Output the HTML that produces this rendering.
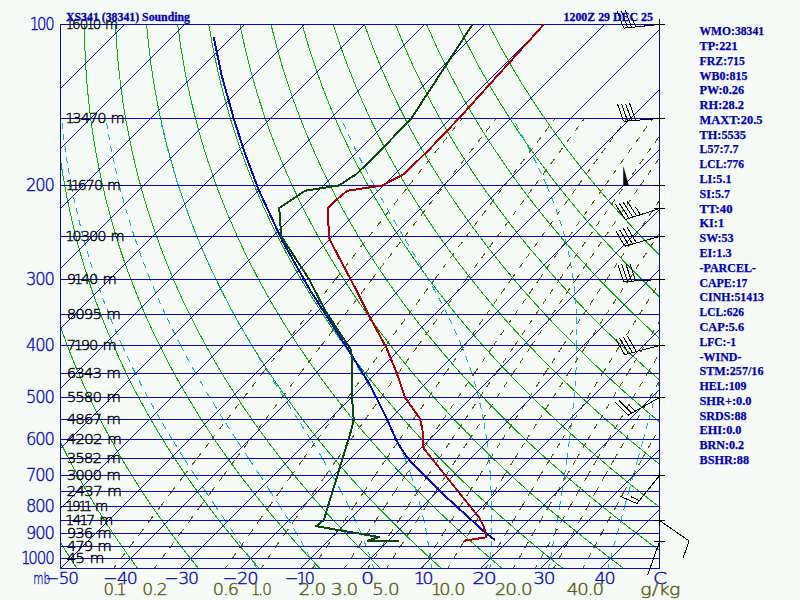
<!DOCTYPE html>
<html><head><meta charset="utf-8"><title>XS341 (38341) Sounding</title>
<style>html,body{margin:0;padding:0;background:#f6fbf7;}body{width:800px;height:600px;overflow:hidden}svg{display:block}</style>
</head><body>
<svg width="800" height="600" viewBox="0 0 800 600">
<rect width="800" height="600" fill="#f6fbf7"/>
<defs><clipPath id="c"><rect x="60" y="24" width="600" height="545"/></clipPath></defs>
<g clip-path="url(#c)" fill="none" stroke-width="1" shape-rendering="crispEdges">
<path stroke="#08b008" d="M-40.1,24.5 L-43.1,46.6 L-45.3,66.8 L-47.0,85.3 L-48.2,102.5 L-49.0,118.5 L-49.5,133.5 L-49.7,147.6 L-49.7,160.8 L-49.5,173.4 L-49.1,185.3 L-48.5,196.6 L-47.9,207.4 L-47.1,217.7 L-46.2,227.5 L-45.2,237.0 L-44.2,246.1 L-43.1,254.8 L-41.9,263.3 L-40.7,271.4 L-39.4,279.3 L-38.1,286.9 L-36.7,294.3 L-35.3,301.4 L-33.9,308.3 L-32.5,315.0 L-31.0,321.6 L-29.5,327.9 L-28.0,334.1 L-26.5,340.1 L-24.9,346.0 L-23.3,351.7 L-21.8,357.3 L-20.2,362.8 L-18.6,368.1 L-17.0,373.3 L-15.4,378.4 L-13.8,383.4 L-12.2,388.3 L-10.5,393.1 L-8.9,397.7 L-7.3,402.3 L-5.6,406.8 L-4.0,411.3 L-2.4,415.6 L-0.7,419.9 L0.9,424.0 L2.5,428.1 L4.2,432.2 L5.8,436.1 L7.4,440.0 L9.1,443.9 L10.7,447.6 L12.4,451.3 L14.0,455.0 L15.6,458.6 L17.2,462.1 L18.9,465.6 L20.5,469.1 L22.1,472.4 L23.7,475.8 L25.3,479.1 L26.9,482.3 L28.5,485.5 L30.2,488.7 L31.8,491.8 L33.3,494.9 L34.9,497.9 L36.5,500.9 L38.1,503.8 L39.7,506.8 L41.3,509.6 L42.8,512.5 L44.4,515.3 L46.0,518.1 L47.5,520.8 L49.1,523.5 L50.7,526.2 L52.2,528.9 L53.8,531.5 L55.3,534.1 L56.8,536.6 L58.4,539.2 L59.9,541.7 L61.4,544.2 L63.0,546.6 L64.5,549.0 L66.0,551.4 L67.5,553.8 L69.0,556.2 L70.5,558.5 L72.0,560.8 L73.5,563.1 L75.0,565.4 L76.5,567.6 L77.1,568.5 L77.9,569.8 M-9.0,24.5 L-11.1,46.6 L-12.5,66.8 L-13.5,85.3 L-14.0,102.5 L-14.1,118.5 L-13.9,133.5 L-13.5,147.6 L-12.9,160.8 L-12.1,173.4 L-11.2,185.3 L-10.1,196.6 L-8.9,207.4 L-7.6,217.7 L-6.3,227.5 L-4.8,237.0 L-3.3,246.1 L-1.8,254.8 L-0.2,263.3 L1.5,271.4 L3.2,279.3 L4.9,286.9 L6.6,294.3 L8.4,301.4 L10.2,308.3 L12.0,315.0 L13.8,321.6 L15.7,327.9 L17.5,334.1 L19.4,340.1 L21.3,346.0 L23.2,351.7 L25.1,357.3 L27.0,362.8 L28.9,368.1 L30.8,373.3 L32.7,378.4 L34.6,383.4 L36.5,388.3 L38.4,393.1 L40.3,397.7 L42.2,402.3 L44.1,406.8 L46.0,411.3 L48.0,415.6 L49.9,419.9 L51.8,424.0 L53.6,428.1 L55.5,432.2 L57.4,436.1 L59.3,440.0 L61.2,443.9 L63.1,447.6 L64.9,451.3 L66.8,455.0 L68.7,458.6 L70.5,462.1 L72.4,465.6 L74.2,469.1 L76.1,472.4 L77.9,475.8 L79.7,479.1 L81.6,482.3 L83.4,485.5 L85.2,488.7 L87.0,491.8 L88.8,494.9 L90.6,497.9 L92.4,500.9 L94.2,503.8 L96.0,506.8 L97.8,509.6 L99.5,512.5 L101.3,515.3 L103.1,518.1 L104.8,520.8 L106.6,523.5 L108.3,526.2 L110.1,528.9 L111.8,531.5 L113.5,534.1 L115.2,536.6 L117.0,539.2 L118.7,541.7 L120.4,544.2 L122.1,546.6 L123.8,549.0 L125.5,551.4 L127.1,553.8 L128.8,556.2 L130.5,558.5 L132.2,560.8 L133.8,563.1 L135.5,565.4 L137.1,567.6 L137.8,568.5 L138.8,569.8 M22.1,24.5 L20.9,46.6 L20.2,66.8 L20.1,85.3 L20.3,102.5 L20.8,118.5 L21.6,133.5 L22.7,147.6 L23.9,160.8 L25.2,173.4 L26.7,185.3 L28.3,196.6 L30.0,207.4 L31.8,217.7 L33.7,227.5 L35.6,237.0 L37.5,246.1 L39.5,254.8 L41.6,263.3 L43.6,271.4 L45.7,279.3 L47.8,286.9 L50.0,294.3 L52.1,301.4 L54.3,308.3 L56.5,315.0 L58.7,321.6 L60.9,327.9 L63.1,334.1 L65.3,340.1 L67.5,346.0 L69.7,351.7 L71.9,357.3 L74.1,362.8 L76.3,368.1 L78.6,373.3 L80.8,378.4 L83.0,383.4 L85.2,388.3 L87.4,393.1 L89.6,397.7 L91.8,402.3 L93.9,406.8 L96.1,411.3 L98.3,415.6 L100.4,419.9 L102.6,424.0 L104.8,428.1 L106.9,432.2 L109.0,436.1 L111.2,440.0 L113.3,443.9 L115.4,447.6 L117.5,451.3 L119.6,455.0 L121.7,458.6 L123.8,462.1 L125.9,465.6 L128.0,469.1 L130.1,472.4 L132.1,475.8 L134.2,479.1 L136.2,482.3 L138.2,485.5 L140.3,488.7 L142.3,491.8 L144.3,494.9 L146.3,497.9 L148.3,500.9 L150.3,503.8 L152.3,506.8 L154.3,509.6 L156.2,512.5 L158.2,515.3 L160.2,518.1 L162.1,520.8 L164.1,523.5 L166.0,526.2 L167.9,528.9 L169.8,531.5 L171.7,534.1 L173.7,536.6 L175.6,539.2 L177.4,541.7 L179.3,544.2 L181.2,546.6 L183.1,549.0 L184.9,551.4 L186.8,553.8 L188.7,556.2 L190.5,558.5 L192.3,560.8 L194.2,563.1 L196.0,565.4 L197.8,567.6 L198.6,568.5 L199.6,569.8 M53.2,24.5 L52.8,46.6 L53.0,66.8 L53.6,85.3 L54.5,102.5 L55.8,118.5 L57.2,133.5 L58.9,147.6 L60.7,160.8 L62.6,173.4 L64.7,185.3 L66.8,196.6 L69.0,207.4 L71.3,217.7 L73.6,227.5 L76.0,237.0 L78.4,246.1 L80.8,254.8 L83.3,263.3 L85.8,271.4 L88.3,279.3 L90.8,286.9 L93.3,294.3 L95.9,301.4 L98.4,308.3 L101.0,315.0 L103.5,321.6 L106.1,327.9 L108.6,334.1 L111.2,340.1 L113.7,346.0 L116.2,351.7 L118.8,357.3 L121.3,362.8 L123.8,368.1 L126.3,373.3 L128.8,378.4 L131.3,383.4 L133.8,388.3 L136.3,393.1 L138.8,397.7 L141.3,402.3 L143.7,406.8 L146.2,411.3 L148.6,415.6 L151.0,419.9 L153.5,424.0 L155.9,428.1 L158.3,432.2 L160.7,436.1 L163.0,440.0 L165.4,443.9 L167.8,447.6 L170.1,451.3 L172.5,455.0 L174.8,458.6 L177.1,462.1 L179.4,465.6 L181.7,469.1 L184.0,472.4 L186.3,475.8 L188.6,479.1 L190.8,482.3 L193.1,485.5 L195.3,488.7 L197.6,491.8 L199.8,494.9 L202.0,497.9 L204.2,500.9 L206.4,503.8 L208.6,506.8 L210.8,509.6 L212.9,512.5 L215.1,515.3 L217.3,518.1 L219.4,520.8 L221.5,523.5 L223.7,526.2 L225.8,528.9 L227.9,531.5 L230.0,534.1 L232.1,536.6 L234.1,539.2 L236.2,541.7 L238.3,544.2 L240.3,546.6 L242.4,549.0 L244.4,551.4 L246.5,553.8 L248.5,556.2 L250.5,558.5 L252.5,560.8 L254.5,563.1 L256.5,565.4 L258.5,567.6 L259.3,568.5 L260.5,569.8 M84.4,24.5 L84.8,46.6 L85.8,66.8 L87.1,85.3 L88.8,102.5 L90.7,118.5 L92.8,133.5 L95.1,147.6 L97.5,160.8 L100.0,173.4 L102.6,185.3 L105.2,196.6 L108.0,207.4 L110.7,217.7 L113.5,227.5 L116.4,237.0 L119.2,246.1 L122.1,254.8 L125.0,263.3 L127.9,271.4 L130.8,279.3 L133.8,286.9 L136.7,294.3 L139.6,301.4 L142.5,308.3 L145.4,315.0 L148.3,321.6 L151.2,327.9 L154.1,334.1 L157.0,340.1 L159.9,346.0 L162.8,351.7 L165.6,357.3 L168.5,362.8 L171.3,368.1 L174.1,373.3 L176.9,378.4 L179.7,383.4 L182.5,388.3 L185.3,393.1 L188.0,397.7 L190.8,402.3 L193.5,406.8 L196.2,411.3 L198.9,415.6 L201.6,419.9 L204.3,424.0 L207.0,428.1 L209.6,432.2 L212.3,436.1 L214.9,440.0 L217.5,443.9 L220.1,447.6 L222.7,451.3 L225.3,455.0 L227.9,458.6 L230.4,462.1 L233.0,465.6 L235.5,469.1 L238.0,472.4 L240.5,475.8 L243.0,479.1 L245.5,482.3 L247.9,485.5 L250.4,488.7 L252.8,491.8 L255.3,494.9 L257.7,497.9 L260.1,500.9 L262.5,503.8 L264.9,506.8 L267.3,509.6 L269.6,512.5 L272.0,515.3 L274.3,518.1 L276.7,520.8 L279.0,523.5 L281.3,526.2 L283.6,528.9 L285.9,531.5 L288.2,534.1 L290.5,536.6 L292.7,539.2 L295.0,541.7 L297.2,544.2 L299.5,546.6 L301.7,549.0 L303.9,551.4 L306.1,553.8 L308.3,556.2 L310.5,558.5 L312.7,560.8 L314.8,563.1 L317.0,565.4 L319.2,567.6 L320.0,568.5 L321.3,569.8 M115.5,24.5 L116.8,46.6 L118.5,66.8 L120.7,85.3 L123.0,102.5 L125.6,118.5 L128.4,133.5 L131.3,147.6 L134.3,160.8 L137.3,173.4 L140.5,185.3 L143.7,196.6 L146.9,207.4 L150.2,217.7 L153.5,227.5 L156.8,237.0 L160.1,246.1 L163.4,254.8 L166.8,263.3 L170.1,271.4 L173.4,279.3 L176.7,286.9 L180.0,294.3 L183.3,301.4 L186.6,308.3 L189.9,315.0 L193.2,321.6 L196.4,327.9 L199.7,334.1 L202.9,340.1 L206.1,346.0 L209.3,351.7 L212.5,357.3 L215.6,362.8 L218.8,368.1 L221.9,373.3 L225.0,378.4 L228.1,383.4 L231.2,388.3 L234.2,393.1 L237.3,397.7 L240.3,402.3 L243.3,406.8 L246.3,411.3 L249.3,415.6 L252.2,419.9 L255.2,424.0 L258.1,428.1 L261.0,432.2 L263.9,436.1 L266.8,440.0 L269.6,443.9 L272.5,447.6 L275.3,451.3 L278.1,455.0 L280.9,458.6 L283.7,462.1 L286.5,465.6 L289.2,469.1 L292.0,472.4 L294.7,475.8 L297.4,479.1 L300.1,482.3 L302.8,485.5 L305.5,488.7 L308.1,491.8 L310.8,494.9 L313.4,497.9 L316.0,500.9 L318.6,503.8 L321.2,506.8 L323.8,509.6 L326.3,512.5 L328.9,515.3 L331.4,518.1 L334.0,520.8 L336.5,523.5 L339.0,526.2 L341.5,528.9 L344.0,531.5 L346.4,534.1 L348.9,536.6 L351.3,539.2 L353.8,541.7 L356.2,544.2 L358.6,546.6 L361.0,549.0 L363.4,551.4 L365.8,553.8 L368.1,556.2 L370.5,558.5 L372.8,560.8 L375.2,563.1 L377.5,565.4 L379.8,567.6 L380.8,568.5 L382.1,569.8 M146.6,24.5 L148.8,46.6 L151.3,66.8 L154.2,85.3 L157.3,102.5 L160.6,118.5 L164.0,133.5 L167.5,147.6 L171.1,160.8 L174.7,173.4 L178.4,185.3 L182.1,196.6 L185.9,207.4 L189.6,217.7 L193.4,227.5 L197.2,237.0 L201.0,246.1 L204.7,254.8 L208.5,263.3 L212.2,271.4 L216.0,279.3 L219.7,286.9 L223.4,294.3 L227.1,301.4 L230.7,308.3 L234.4,315.0 L238.0,321.6 L241.6,327.9 L245.2,334.1 L248.8,340.1 L252.3,346.0 L255.8,351.7 L259.3,357.3 L262.8,362.8 L266.2,368.1 L269.7,373.3 L273.1,378.4 L276.5,383.4 L279.8,388.3 L283.2,393.1 L286.5,397.7 L289.8,402.3 L293.1,406.8 L296.4,411.3 L299.6,415.6 L302.8,419.9 L306.0,424.0 L309.2,428.1 L312.4,432.2 L315.5,436.1 L318.6,440.0 L321.7,443.9 L324.8,447.6 L327.9,451.3 L331.0,455.0 L334.0,458.6 L337.0,462.1 L340.0,465.6 L343.0,469.1 L346.0,472.4 L348.9,475.8 L351.8,479.1 L354.7,482.3 L357.6,485.5 L360.5,488.7 L363.4,491.8 L366.2,494.9 L369.1,497.9 L371.9,500.9 L374.7,503.8 L377.5,506.8 L380.3,509.6 L383.0,512.5 L385.8,515.3 L388.5,518.1 L391.2,520.8 L393.9,523.5 L396.6,526.2 L399.3,528.9 L402.0,531.5 L404.6,534.1 L407.3,536.6 L409.9,539.2 L412.5,541.7 L415.1,544.2 L417.7,546.6 L420.3,549.0 L422.9,551.4 L425.4,553.8 L428.0,556.2 L430.5,558.5 L433.0,560.8 L435.5,563.1 L438.0,565.4 L440.5,567.6 L441.5,568.5 L443.0,569.8 M177.7,24.5 L180.7,46.6 L184.1,66.8 L187.7,85.3 L191.5,102.5 L195.5,118.5 L199.5,133.5 L203.7,147.6 L207.8,160.8 L212.1,173.4 L216.3,185.3 L220.6,196.6 L224.8,207.4 L229.1,217.7 L233.4,227.5 L237.6,237.0 L241.8,246.1 L246.0,254.8 L250.2,263.3 L254.4,271.4 L258.5,279.3 L262.7,286.9 L266.7,294.3 L270.8,301.4 L274.9,308.3 L278.9,315.0 L282.8,321.6 L286.8,327.9 L290.7,334.1 L294.6,340.1 L298.5,346.0 L302.4,351.7 L306.2,357.3 L310.0,362.8 L313.7,368.1 L317.5,373.3 L321.2,378.4 L324.9,383.4 L328.5,388.3 L332.1,393.1 L335.8,397.7 L339.3,402.3 L342.9,406.8 L346.4,411.3 L349.9,415.6 L353.4,419.9 L356.9,424.0 L360.3,428.1 L363.7,432.2 L367.1,436.1 L370.5,440.0 L373.9,443.9 L377.2,447.6 L380.5,451.3 L383.8,455.0 L387.1,458.6 L390.3,462.1 L393.5,465.6 L396.7,469.1 L399.9,472.4 L403.1,475.8 L406.2,479.1 L409.4,482.3 L412.5,485.5 L415.6,488.7 L418.7,491.8 L421.7,494.9 L424.8,497.9 L427.8,500.9 L430.8,503.8 L433.8,506.8 L436.8,509.6 L439.7,512.5 L442.7,515.3 L445.6,518.1 L448.5,520.8 L451.4,523.5 L454.3,526.2 L457.2,528.9 L460.0,531.5 L462.9,534.1 L465.7,536.6 L468.5,539.2 L471.3,541.7 L474.1,544.2 L476.9,546.6 L479.6,549.0 L482.4,551.4 L485.1,553.8 L487.8,556.2 L490.5,558.5 L493.2,560.8 L495.9,563.1 L498.5,565.4 L501.2,567.6 L502.3,568.5 L503.8,569.8 M208.8,24.5 L212.7,46.6 L216.9,66.8 L221.2,85.3 L225.8,102.5 L230.4,118.5 L235.1,133.5 L239.9,147.6 L244.6,160.8 L249.4,173.4 L254.2,185.3 L259.0,196.6 L263.8,207.4 L268.6,217.7 L273.3,227.5 L278.0,237.0 L282.7,246.1 L287.3,254.8 L292.0,263.3 L296.5,271.4 L301.1,279.3 L305.6,286.9 L310.1,294.3 L314.5,301.4 L319.0,308.3 L323.3,315.0 L327.7,321.6 L332.0,327.9 L336.3,334.1 L340.5,340.1 L344.7,346.0 L348.9,351.7 L353.0,357.3 L357.1,362.8 L361.2,368.1 L365.2,373.3 L369.3,378.4 L373.2,383.4 L377.2,388.3 L381.1,393.1 L385.0,397.7 L388.9,402.3 L392.7,406.8 L396.5,411.3 L400.3,415.6 L404.0,419.9 L407.7,424.0 L411.4,428.1 L415.1,432.2 L418.8,436.1 L422.4,440.0 L426.0,443.9 L429.5,447.6 L433.1,451.3 L436.6,455.0 L440.1,458.6 L443.6,462.1 L447.1,465.6 L450.5,469.1 L453.9,472.4 L457.3,475.8 L460.7,479.1 L464.0,482.3 L467.3,485.5 L470.7,488.7 L473.9,491.8 L477.2,494.9 L480.5,497.9 L483.7,500.9 L486.9,503.8 L490.1,506.8 L493.3,509.6 L496.4,512.5 L499.6,515.3 L502.7,518.1 L505.8,520.8 L508.9,523.5 L512.0,526.2 L515.0,528.9 L518.1,531.5 L521.1,534.1 L524.1,536.6 L527.1,539.2 L530.1,541.7 L533.0,544.2 L536.0,546.6 L538.9,549.0 L541.8,551.4 L544.7,553.8 L547.6,556.2 L550.5,558.5 L553.4,560.8 L556.2,563.1 L559.0,565.4 L561.9,567.6 L563.0,568.5 L564.7,569.8 M239.9,24.5 L244.7,46.6 L249.6,66.8 L254.8,85.3 L260.0,102.5 L265.3,118.5 L270.7,133.5 L276.1,147.6 L281.4,160.8 L286.8,173.4 L292.1,185.3 L297.5,196.6 L302.8,207.4 L308.0,217.7 L313.2,227.5 L318.4,237.0 L323.5,246.1 L328.6,254.8 L333.7,263.3 L338.7,271.4 L343.7,279.3 L348.6,286.9 L353.5,294.3 L358.3,301.4 L363.1,308.3 L367.8,315.0 L372.5,321.6 L377.2,327.9 L381.8,334.1 L386.4,340.1 L390.9,346.0 L395.4,351.7 L399.9,357.3 L404.3,362.8 L408.7,368.1 L413.0,373.3 L417.3,378.4 L421.6,383.4 L425.8,388.3 L430.1,393.1 L434.2,397.7 L438.4,402.3 L442.5,406.8 L446.6,411.3 L450.6,415.6 L454.6,419.9 L458.6,424.0 L462.5,428.1 L466.5,432.2 L470.4,436.1 L474.2,440.0 L478.1,443.9 L481.9,447.6 L485.7,451.3 L489.4,455.0 L493.2,458.6 L496.9,462.1 L500.6,465.6 L504.2,469.1 L507.9,472.4 L511.5,475.8 L515.1,479.1 L518.6,482.3 L522.2,485.5 L525.7,488.7 L529.2,491.8 L532.7,494.9 L536.2,497.9 L539.6,500.9 L543.0,503.8 L546.4,506.8 L549.8,509.6 L553.1,512.5 L556.5,515.3 L559.8,518.1 L563.1,520.8 L566.4,523.5 L569.6,526.2 L572.9,528.9 L576.1,531.5 L579.3,534.1 L582.5,536.6 L585.7,539.2 L588.8,541.7 L592.0,544.2 L595.1,546.6 L598.2,549.0 L601.3,551.4 L604.4,553.8 L607.5,556.2 L610.5,558.5 L613.5,560.8 L616.5,563.1 L619.6,565.4 L622.5,567.6 L623.7,568.5 L625.5,569.8 M271.0,24.5 L276.6,46.6 L282.4,66.8 L288.3,85.3 L294.3,102.5 L300.3,118.5 L306.3,133.5 L312.3,147.6 L318.2,160.8 L324.2,173.4 L330.1,185.3 L335.9,196.6 L341.7,207.4 L347.5,217.7 L353.2,227.5 L358.8,237.0 L364.4,246.1 L369.9,254.8 L375.4,263.3 L380.8,271.4 L386.2,279.3 L391.5,286.9 L396.8,294.3 L402.0,301.4 L407.2,308.3 L412.3,315.0 L417.3,321.6 L422.4,327.9 L427.3,334.1 L432.2,340.1 L437.1,346.0 L441.9,351.7 L446.7,357.3 L451.5,362.8 L456.1,368.1 L460.8,373.3 L465.4,378.4 L470.0,383.4 L474.5,388.3 L479.0,393.1 L483.5,397.7 L487.9,402.3 L492.3,406.8 L496.6,411.3 L500.9,415.6 L505.2,419.9 L509.5,424.0 L513.7,428.1 L517.8,432.2 L522.0,436.1 L526.1,440.0 L530.2,443.9 L534.2,447.6 L538.3,451.3 L542.3,455.0 L546.2,458.6 L550.2,462.1 L554.1,465.6 L558.0,469.1 L561.9,472.4 L565.7,475.8 L569.5,479.1 L573.3,482.3 L577.0,485.5 L580.8,488.7 L584.5,491.8 L588.2,494.9 L591.8,497.9 L595.5,500.9 L599.1,503.8 L602.7,506.8 L606.3,509.6 L609.8,512.5 L613.4,515.3 L616.9,518.1 L620.4,520.8 L623.8,523.5 L627.3,526.2 L630.7,528.9 L634.1,531.5 L637.5,534.1 L640.9,536.6 L644.3,539.2 L647.6,541.7 L650.9,544.2 L654.2,546.6 L657.5,549.0 L660.8,551.4 L664.0,553.8 L667.3,556.2 L670.5,558.5 L673.7,560.8 L676.9,563.1 L680.1,565.4 L683.2,567.6 L684.5,568.5 L686.4,569.8 M302.2,24.5 L308.6,46.6 L315.2,66.8 L321.8,85.3 L328.5,102.5 L335.2,118.5 L341.8,133.5 L348.5,147.6 L355.0,160.8 L361.5,173.4 L368.0,185.3 L374.4,196.6 L380.7,207.4 L386.9,217.7 L393.1,227.5 L399.2,237.0 L405.3,246.1 L411.2,254.8 L417.2,263.3 L423.0,271.4 L428.8,279.3 L434.5,286.9 L440.2,294.3 L445.8,301.4 L451.3,308.3 L456.8,315.0 L462.2,321.6 L467.5,327.9 L472.9,334.1 L478.1,340.1 L483.3,346.0 L488.5,351.7 L493.6,357.3 L498.6,362.8 L503.6,368.1 L508.6,373.3 L513.5,378.4 L518.4,383.4 L523.2,388.3 L528.0,393.1 L532.7,397.7 L537.4,402.3 L542.1,406.8 L546.7,411.3 L551.3,415.6 L555.8,419.9 L560.3,424.0 L564.8,428.1 L569.2,432.2 L573.6,436.1 L578.0,440.0 L582.3,443.9 L586.6,447.6 L590.9,451.3 L595.1,455.0 L599.3,458.6 L603.5,462.1 L607.6,465.6 L611.7,469.1 L615.8,472.4 L619.9,475.8 L623.9,479.1 L627.9,482.3 L631.9,485.5 L635.8,488.7 L639.8,491.8 L643.7,494.9 L647.5,497.9 L651.4,500.9 L655.2,503.8 L659.0,506.8 L662.8,509.6 L666.5,512.5 L670.3,515.3 L674.0,518.1 L677.7,520.8 L681.3,523.5 L685.0,526.2 L688.6,528.9 L692.2,531.5 L695.8,534.1 L699.3,536.6 L702.9,539.2 L706.4,541.7 L709.9,544.2 L713.4,546.6 L716.8,549.0 L720.3,551.4 L723.7,553.8 L727.1,556.2 L730.5,558.5 L733.9,560.8 L737.2,563.1 L740.6,565.4 L743.9,567.6 L745.2,568.5 L747.2,569.8 M333.3,24.5 L340.6,46.6 L348.0,66.8 L355.4,85.3 L362.8,102.5 L370.1,118.5 L377.4,133.5 L384.6,147.6 L391.8,160.8 L398.9,173.4 L405.9,185.3 L412.8,196.6 L419.6,207.4 L426.4,217.7 L433.0,227.5 L439.6,237.0 L446.1,246.1 L452.5,254.8 L458.9,263.3 L465.2,271.4 L471.3,279.3 L477.5,286.9 L483.5,294.3 L489.5,301.4 L495.4,308.3 L501.2,315.0 L507.0,321.6 L512.7,327.9 L518.4,334.1 L524.0,340.1 L529.5,346.0 L535.0,351.7 L540.4,357.3 L545.8,362.8 L551.1,368.1 L556.4,373.3 L561.6,378.4 L566.7,383.4 L571.9,388.3 L576.9,393.1 L581.9,397.7 L586.9,402.3 L591.9,406.8 L596.7,411.3 L601.6,415.6 L606.4,419.9 L611.2,424.0 L615.9,428.1 L620.6,432.2 L625.2,436.1 L629.8,440.0 L634.4,443.9 L639.0,447.6 L643.5,451.3 L647.9,455.0 L652.4,458.6 L656.8,462.1 L661.1,465.6 L665.5,469.1 L669.8,472.4 L674.1,475.8 L678.3,479.1 L682.5,482.3 L686.7,485.5 L690.9,488.7 L695.0,491.8 L699.1,494.9 L703.2,497.9 L707.3,500.9 L711.3,503.8 L715.3,506.8 L719.3,509.6 L723.2,512.5 L727.2,515.3 L731.1,518.1 L734.9,520.8 L738.8,523.5 L742.6,526.2 L746.4,528.9 L750.2,531.5 L754.0,534.1 L757.7,536.6 L761.5,539.2 L765.2,541.7 L768.8,544.2 L772.5,546.6 L776.1,549.0 L779.8,551.4 L783.4,553.8 L786.9,556.2 L790.5,558.5 L794.0,560.8 L797.6,563.1 L801.1,565.4 L804.6,567.6 L806.0,568.5 L808.0,569.8 M364.4,24.5 L372.6,46.6 L380.7,66.8 L388.9,85.3 L397.0,102.5 L405.0,118.5 L413.0,133.5 L420.8,147.6 L428.6,160.8 L436.3,173.4 L443.8,185.3 L451.2,196.6 L458.6,207.4 L465.8,217.7 L473.0,227.5 L480.0,237.0 L487.0,246.1 L493.8,254.8 L500.6,263.3 L507.3,271.4 L513.9,279.3 L520.4,286.9 L526.9,294.3 L533.2,301.4 L539.5,308.3 L545.7,315.0 L551.9,321.6 L557.9,327.9 L563.9,334.1 L569.8,340.1 L575.7,346.0 L581.5,351.7 L587.3,357.3 L592.9,362.8 L598.6,368.1 L604.1,373.3 L609.7,378.4 L615.1,383.4 L620.5,388.3 L625.9,393.1 L631.2,397.7 L636.4,402.3 L641.6,406.8 L646.8,411.3 L651.9,415.6 L657.0,419.9 L662.0,424.0 L667.0,428.1 L671.9,432.2 L676.8,436.1 L681.7,440.0 L686.5,443.9 L691.3,447.6 L696.1,451.3 L700.8,455.0 L705.4,458.6 L710.1,462.1 L714.7,465.6 L719.2,469.1 L723.8,472.4 L728.3,475.8 L732.7,479.1 L737.2,482.3 L741.6,485.5 L746.0,488.7 L750.3,491.8 L754.6,494.9 L758.9,497.9 L763.2,500.9 L767.4,503.8 L771.6,506.8 L775.8,509.6 L779.9,512.5 L784.1,515.3 L788.1,518.1 L792.2,520.8 L796.3,523.5 L800.3,526.2 L804.3,528.9 L808.3,531.5 L812.2,534.1 L816.1,536.6 L820.0,539.2 L823.9,541.7 L827.8,544.2 L831.6,546.6 L835.4,549.0 L839.2,551.4 L843.0,553.8 L846.8,556.2 L850.5,558.5 L854.2,560.8 L857.9,563.1 L861.6,565.4 L865.2,567.6 L866.7,568.5 L868.9,569.8 M395.5,24.5 L404.5,46.6 L413.5,66.8 L422.4,85.3 L431.3,102.5 L440.0,118.5 L448.6,133.5 L457.0,147.6 L465.4,160.8 L473.6,173.4 L481.7,185.3 L489.7,196.6 L497.6,207.4 L505.3,217.7 L512.9,227.5 L520.4,237.0 L527.8,246.1 L535.2,254.8 L542.4,263.3 L549.5,271.4 L556.5,279.3 L563.4,286.9 L570.2,294.3 L577.0,301.4 L583.6,308.3 L590.2,315.0 L596.7,321.6 L603.1,327.9 L609.4,334.1 L615.7,340.1 L621.9,346.0 L628.0,351.7 L634.1,357.3 L640.1,362.8 L646.0,368.1 L651.9,373.3 L657.7,378.4 L663.5,383.4 L669.2,388.3 L674.8,393.1 L680.4,397.7 L686.0,402.3 L691.4,406.8 L696.9,411.3 L702.2,415.6 L707.6,419.9 L712.9,424.0 L718.1,428.1 L723.3,432.2 L728.5,436.1 L733.6,440.0 L738.6,443.9 L743.7,447.6 L748.6,451.3 L753.6,455.0 L758.5,458.6 L763.4,462.1 L768.2,465.6 L773.0,469.1 L777.7,472.4 L782.5,475.8 L787.2,479.1 L791.8,482.3 L796.4,485.5 L801.0,488.7 L805.6,491.8 L810.1,494.9 L814.6,497.9 L819.1,500.9 L823.5,503.8 L827.9,506.8 L832.3,509.6 L836.6,512.5 L840.9,515.3 L845.2,518.1 L849.5,520.8 L853.7,523.5 L858.0,526.2 L862.1,528.9 L866.3,531.5 L870.4,534.1 L874.5,536.6 L878.6,539.2 L882.7,541.7 L886.7,544.2 L890.8,546.6 L894.7,549.0 L898.7,551.4 L902.7,553.8 L906.6,556.2 L910.5,558.5 L914.4,560.8 L918.2,563.1 L922.1,565.4 L925.9,567.6 L927.5,568.5 L929.7,569.8 M426.6,24.5 L436.5,46.6 L446.3,66.8 L456.0,85.3 L465.5,102.5 L474.9,118.5 L484.1,133.5 L493.2,147.6 L502.2,160.8 L511.0,173.4 L519.6,185.3 L528.1,196.6 L536.5,207.4 L544.7,217.7 L552.9,227.5 L560.8,237.0 L568.7,246.1 L576.5,254.8 L584.1,263.3 L591.6,271.4 L599.0,279.3 L606.4,286.9 L613.6,294.3 L620.7,301.4 L627.7,308.3 L634.7,315.0 L641.5,321.6 L648.3,327.9 L655.0,334.1 L661.6,340.1 L668.1,346.0 L674.6,351.7 L681.0,357.3 L687.3,362.8 L693.5,368.1 L699.7,373.3 L705.8,378.4 L711.9,383.4 L717.9,388.3 L723.8,393.1 L729.7,397.7 L735.5,402.3 L741.2,406.8 L746.9,411.3 L752.6,415.6 L758.2,419.9 L763.7,424.0 L769.2,428.1 L774.7,432.2 L780.1,436.1 L785.4,440.0 L790.7,443.9 L796.0,447.6 L801.2,451.3 L806.4,455.0 L811.6,458.6 L816.7,462.1 L821.7,465.6 L826.7,469.1 L831.7,472.4 L836.7,475.8 L841.6,479.1 L846.4,482.3 L851.3,485.5 L856.1,488.7 L860.9,491.8 L865.6,494.9 L870.3,497.9 L875.0,500.9 L879.6,503.8 L884.2,506.8 L888.8,509.6 L893.3,512.5 L897.8,515.3 L902.3,518.1 L906.8,520.8 L911.2,523.5 L915.6,526.2 L920.0,528.9 L924.3,531.5 L928.7,534.1 L933.0,536.6 L937.2,539.2 L941.5,541.7 L945.7,544.2 L949.9,546.6 L954.1,549.0 L958.2,551.4 L962.3,553.8 L966.4,556.2 L970.5,558.5 L974.6,560.8 L978.6,563.1 L982.6,565.4 L986.6,567.6 L988.2,568.5 L990.6,569.8 M457.7,24.5 L468.5,46.6 L479.1,66.8 L489.5,85.3 L499.8,102.5 L509.8,118.5 L519.7,133.5 L529.4,147.6 L539.0,160.8 L548.3,173.4 L557.5,185.3 L566.6,196.6 L575.5,207.4 L584.2,217.7 L592.8,227.5 L601.2,237.0 L609.6,246.1 L617.8,254.8 L625.8,263.3 L633.8,271.4 L641.6,279.3 L649.3,286.9 L656.9,294.3 L664.4,301.4 L671.8,308.3 L679.1,315.0 L686.4,321.6 L693.5,327.9 L700.5,334.1 L707.5,340.1 L714.3,346.0 L721.1,351.7 L727.8,357.3 L734.4,362.8 L741.0,368.1 L747.5,373.3 L753.9,378.4 L760.2,383.4 L766.5,388.3 L772.7,393.1 L778.9,397.7 L785.0,402.3 L791.0,406.8 L797.0,411.3 L802.9,415.6 L808.8,419.9 L814.6,424.0 L820.3,428.1 L826.0,432.2 L831.7,436.1 L837.3,440.0 L842.9,443.9 L848.4,447.6 L853.8,451.3 L859.2,455.0 L864.6,458.6 L870.0,462.1 L875.2,465.6 L880.5,469.1 L885.7,472.4 L890.9,475.8 L896.0,479.1 L901.1,482.3 L906.1,485.5 L911.2,488.7 L916.1,491.8 L921.1,494.9 L926.0,497.9 L930.9,500.9 L935.7,503.8 L940.5,506.8 L945.3,509.6 L950.0,512.5 L954.7,515.3 L959.4,518.1 L964.1,520.8 L968.7,523.5 L973.3,526.2 L977.8,528.9 L982.4,531.5 L986.9,534.1 L991.4,536.6 L995.8,539.2 L1000.2,541.7 L1004.6,544.2 L1009.0,546.6 L1013.4,549.0 L1017.7,551.4 L1022.0,553.8 L1026.3,556.2 L1030.5,558.5 L1034.7,560.8 L1038.9,563.1 L1043.1,565.4 L1047.3,567.6 L1048.9,568.5 L1051.4,569.8 M488.8,24.5 L500.4,46.6 L511.8,66.8 L523.0,85.3 L534.0,102.5 L544.8,118.5 L555.3,133.5 L565.6,147.6 L575.8,160.8 L585.7,173.4 L595.5,185.3 L605.0,196.6 L614.4,207.4 L623.7,217.7 L632.7,227.5 L641.7,237.0 L650.4,246.1 L659.1,254.8 L667.6,263.3 L675.9,271.4 L684.2,279.3 L692.3,286.9 L700.3,294.3 L708.2,301.4 L715.9,308.3 L723.6,315.0 L731.2,321.6 L738.7,327.9 L746.0,334.1 L753.3,340.1 L760.5,346.0 L767.6,351.7 L774.7,357.3 L781.6,362.8 L788.5,368.1 L795.3,373.3 L802.0,378.4 L808.6,383.4 L815.2,388.3 L821.7,393.1 L828.1,397.7 L834.5,402.3 L840.8,406.8 L847.1,411.3 L853.2,415.6 L859.4,419.9 L865.4,424.0 L871.4,428.1 L877.4,432.2 L883.3,436.1 L889.2,440.0 L895.0,443.9 L900.7,447.6 L906.4,451.3 L912.1,455.0 L917.7,458.6 L923.3,462.1 L928.8,465.6 L934.2,469.1 L939.7,472.4 L945.1,475.8 L950.4,479.1 L955.7,482.3 L961.0,485.5 L966.2,488.7 L971.4,491.8 L976.6,494.9 L981.7,497.9 L986.8,500.9 L991.8,503.8 L996.8,506.8 L1001.8,509.6 L1006.7,512.5 L1011.6,515.3 L1016.5,518.1 L1021.3,520.8 L1026.2,523.5 L1030.9,526.2 L1035.7,528.9 L1040.4,531.5 L1045.1,534.1 L1049.8,536.6 L1054.4,539.2 L1059.0,541.7 L1063.6,544.2 L1068.1,546.6 L1072.7,549.0 L1077.2,551.4 L1081.6,553.8 L1086.1,556.2 L1090.5,558.5 L1094.9,560.8 L1099.3,563.1 L1103.6,565.4 L1107.9,567.6 L1109.7,568.5 L1112.2,569.8"/>
<path stroke="#18b4cc" d="M257.7,569.8 L253.9,563.8 M250.5,558.5 L246.6,552.5 M243.2,547.2 L242.7,546.6 M242.7,546.6 L238.7,540.6 M235.2,535.4 L234.4,534.1 M234.4,534.1 L230.3,528.1 M226.8,522.8 L225.4,520.8 M225.4,520.8 L221.4,514.8 M217.8,509.6 L215.9,506.8 M215.9,506.8 L211.9,500.8 M208.3,495.5 L205.9,491.8 M205.9,491.8 L201.9,485.8 M198.4,480.5 L195.3,475.8 M195.3,475.8 L191.3,469.8 M187.9,464.5 L184.1,458.6 M184.1,458.6 L180.3,452.6 M177.1,447.3 L173.4,441.3 M172.6,440.0 L168.9,434.0 M165.8,428.8 L162.2,422.8 M160.5,419.9 L157.1,413.9 M154.1,408.6 L150.8,402.6 M148.1,397.7 L144.9,391.7 M142.1,386.5 L139.0,380.5 M136.4,375.2 L135.4,373.3 M135.4,373.3 L132.4,367.3 M129.9,362.1 L127.0,356.1 M124.6,350.8 L122.4,346.0 M122.4,346.0 L119.7,340.0 M117.4,334.8 L114.9,328.8 M112.7,323.5 L110.2,317.5 M109.2,315.0 L106.9,309.0 M104.9,303.8 L102.6,297.8 M100.7,292.5 L98.6,286.5 M96.8,281.3 L96.1,279.3 M96.1,279.3 L94.1,273.3 M92.4,268.0 L90.5,262.0 M88.9,256.8 L87.1,250.8 M85.6,245.5 L83.9,239.5 M83.2,237.0 L81.6,231.0 M80.3,225.7 L78.8,219.7 M77.5,214.5 L76.2,208.5 M75.0,203.2 L73.7,197.2 M72.6,192.0 L71.4,186.0 M71.3,185.3 L70.2,179.3 M69.2,174.0 L68.2,168.0 M67.3,162.8 L66.4,156.8 M65.6,151.5 L64.8,145.5 M64.1,140.3 L63.4,134.3 M62.8,129.0 L62.1,123.0 M316.3,569.8 L313.3,563.8 M310.5,558.5 L307.3,552.5 M304.4,547.2 L304.1,546.6 M304.1,546.6 L300.7,540.6 M297.7,535.4 L296.9,534.1 M296.9,534.1 L293.4,528.1 M290.2,522.8 L289.0,520.8 M289.0,520.8 L285.3,514.8 M282.0,509.6 L280.2,506.8 M280.2,506.8 L276.4,500.8 M273.0,495.5 L270.6,491.8 M270.6,491.8 L266.7,485.8 M263.3,480.5 L260.1,475.8 M260.1,475.8 L256.2,469.8 M252.7,464.5 L248.8,458.6 M248.8,458.6 L244.9,452.6 M241.4,447.3 L237.5,441.3 M236.6,440.0 L232.7,434.0 M229.4,428.8 L225.5,422.8 M223.7,419.9 L219.9,413.9 M216.7,408.6 L213.0,402.6 M210.0,397.7 L206.4,391.7 M203.3,386.5 L199.9,380.5 M196.8,375.2 L195.7,373.3 M195.7,373.3 L192.4,367.3 M189.5,362.1 L186.2,356.1 M183.4,350.8 L180.9,346.0 M180.9,346.0 L177.8,340.0 M175.2,334.8 L172.2,328.8 M169.7,323.5 L166.8,317.5 M165.6,315.0 L162.9,309.0 M160.5,303.8 L157.9,297.8 M155.6,292.5 L153.1,286.5 M150.9,281.3 L150.1,279.3 M150.1,279.3 L147.7,273.3 M145.6,268.0 L143.4,262.0 M141.4,256.8 L139.2,250.8 M137.4,245.5 L135.3,239.5 M134.5,237.0 L132.5,231.0 M130.8,225.7 L129.0,219.7 M127.4,214.5 L125.6,208.5 M124.2,203.2 L122.5,197.2 M121.1,192.0 L119.6,186.0 M119.4,185.3 L117.9,179.3 M116.7,174.0 L115.3,168.0 M114.1,162.8 L112.8,156.8 M111.8,151.5 L110.6,145.5 M109.6,140.3 L108.5,134.3 M107.6,129.0 L106.7,123.0 M374.2,569.8 L372.3,563.8 M370.5,558.5 L368.4,552.5 M366.5,547.2 L366.2,546.6 M366.2,546.6 L363.9,540.6 M361.8,535.4 L361.3,534.1 M361.3,534.1 L358.8,528.1 M356.5,522.8 L355.6,520.8 M355.6,520.8 L352.8,514.8 M350.3,509.6 L349.0,506.8 M349.0,506.8 L346.0,500.8 M343.3,495.5 L341.3,491.8 M341.3,491.8 L338.1,485.8 M335.2,480.5 L332.5,475.8 M332.5,475.8 L329.1,469.8 M326.0,464.5 L322.5,458.6 M322.5,458.6 L318.8,452.6 M315.6,447.3 L311.9,441.3 M311.0,440.0 L307.3,434.0 M303.9,428.8 L300.1,422.8 M298.2,419.9 L294.4,413.9 M291.0,408.6 L287.2,402.6 M284.1,397.7 L280.2,391.7 M276.9,386.5 L273.1,380.5 M269.8,375.2 L268.6,373.3 M268.6,373.3 L264.9,367.3 M261.7,362.1 L258.0,356.1 M254.9,350.8 L252.0,346.0 M252.0,346.0 L248.5,340.0 M245.5,334.8 L242.1,328.8 M239.1,323.5 L235.8,317.5 M234.4,315.0 L231.2,309.0 M228.4,303.8 L225.3,297.8 M222.6,292.5 L219.6,286.5 M217.1,281.3 L216.1,279.3 M216.1,279.3 L213.2,273.3 M210.8,268.0 L208.0,262.0 M205.7,256.8 L203.0,250.8 M200.8,245.5 L198.3,239.5 M197.2,237.0 L194.8,231.0 M192.7,225.7 L190.4,219.7 M188.4,214.5 L186.2,208.5 M184.3,203.2 L182.3,197.2 M180.5,192.0 L178.5,186.0 M178.3,185.3 L176.3,179.3 M174.7,174.0 L172.9,168.0 M171.4,162.8 L169.7,156.8 M168.2,151.5 L166.7,145.5 M165.3,140.3 L163.8,134.3 M162.6,129.0 L161.2,123.0 M431.9,569.8 L431.2,563.8 M430.5,558.5 L429.7,552.5 M428.8,547.2 L428.7,546.6 M428.7,546.6 L427.7,540.6 M426.8,535.4 L426.6,534.1 M426.6,534.1 L425.4,528.1 M424.3,522.8 L423.9,520.8 M423.9,520.8 L422.5,514.8 M421.2,509.6 L420.5,506.8 M420.5,506.8 L418.9,500.8 M417.5,495.5 L416.4,491.8 M416.4,491.8 L414.5,485.8 M412.9,480.5 L411.3,475.8 M411.3,475.8 L409.1,469.8 M407.2,464.5 L404.9,458.6 M404.9,458.6 L402.5,452.6 M400.3,447.3 L397.6,441.3 M397.0,440.0 L394.3,434.0 M391.8,428.8 L388.8,422.8 M387.4,419.9 L384.3,413.9 M381.5,408.6 L378.2,402.6 M375.5,397.7 L372.1,391.7 M369.1,386.5 L365.6,380.5 M362.5,375.2 L361.3,373.3 M361.3,373.3 L357.7,367.3 M354.5,362.1 L350.8,356.1 M347.6,350.8 L344.6,346.0 M344.6,346.0 L340.9,340.0 M337.7,334.8 L333.9,328.8 M330.7,323.5 L327.0,317.5 M325.5,315.0 L321.9,309.0 M318.7,303.8 L315.1,297.8 M312.0,292.5 L308.5,286.5 M305.5,281.3 L304.3,279.3 M304.3,279.3 L300.9,273.3 M298.0,268.0 L294.7,262.0 M291.8,256.8 L288.6,250.8 M285.8,245.5 L282.7,239.5 M281.4,237.0 L278.4,231.0 M275.8,225.7 L272.9,219.7 M270.4,214.5 L267.7,208.5 M265.3,203.2 L262.6,197.2 M260.3,192.0 L257.7,186.0 M257.4,185.3 L254.9,179.3 M252.8,174.0 L250.4,168.0 M248.4,162.8 L246.1,156.8 M244.2,151.5 L242.1,145.5 M240.2,140.3 L238.2,134.3 M236.5,129.0 L234.5,123.0 M489.9,569.8 L490.2,563.8 M490.5,558.5 L490.8,552.5 M491.0,547.2 L491.0,546.6 M491.0,546.6 L491.2,540.6 M491.3,535.4 L491.3,534.1 M491.3,534.1 L491.4,528.1 M491.5,522.8 L491.5,520.8 M491.5,520.8 L491.5,514.8 M491.5,509.6 L491.4,506.8 M491.4,506.8 L491.3,500.8 M491.2,495.5 L491.1,491.8 M491.1,491.8 L490.8,485.8 M490.6,480.5 L490.3,475.8 M490.3,475.8 L489.9,469.8 M489.4,464.5 L488.9,458.6 M488.9,458.6 L488.3,452.6 M487.7,447.3 L486.9,441.3 M486.7,440.0 L485.9,434.0 M485.0,428.8 L484.0,422.8 M483.5,419.9 L482.3,413.9 M481.2,408.6 L479.8,402.6 M478.7,397.7 L477.1,391.7 M475.7,386.5 L473.9,380.5 M472.3,375.2 L471.7,373.3 M471.7,373.3 L469.7,367.3 M467.8,362.1 L465.6,356.1 M463.6,350.8 L461.6,346.0 M461.6,346.0 L459.1,340.0 M456.8,334.8 L454.1,328.8 M451.7,323.5 L448.8,317.5 M447.5,315.0 L444.5,309.0 M441.8,303.8 L438.6,297.8 M435.7,292.5 L432.4,286.5 M429.5,281.3 L428.3,279.3 M428.3,279.3 L424.9,273.3 M421.9,268.0 L418.4,262.0 M415.3,256.8 L411.8,250.8 M408.7,245.5 L405.1,239.5 M403.6,237.0 L400.1,231.0 M397.0,225.7 L393.5,219.7 M390.5,214.5 L387.1,208.5 M384.1,203.2 L380.7,197.2 M377.8,192.0 L374.5,186.0 M374.1,185.3 L370.8,179.3 M368.0,174.0 L364.9,168.0 M362.2,162.8 L359.2,156.8 M356.5,151.5 L353.6,145.5 M351.1,140.3 L348.3,134.3 M345.8,129.0 L343.1,123.0 M548.4,569.8 L549.5,563.8 M550.5,558.5 L551.6,552.5 M552.5,547.2 L552.6,546.6 M552.6,546.6 L553.7,540.6 M554.6,535.4 L554.9,534.1 M554.9,534.1 L555.9,528.1 M556.8,522.8 L557.2,520.8 M557.2,520.8 L558.2,514.8 M559.1,509.6 L559.5,506.8 M559.5,506.8 L560.5,500.8 M561.4,495.5 L562.0,491.8 M562.0,491.8 L562.9,485.8 M563.7,480.5 L564.4,475.8 M564.4,475.8 L565.3,469.8 M566.1,464.5 L567.0,458.6 M567.0,458.6 L567.8,452.6 M568.5,447.3 L569.3,441.3 M569.5,440.0 L570.2,434.0 M570.8,428.8 L571.5,422.8 M571.9,419.9 L572.5,413.9 M573.0,408.6 L573.6,402.6 M574.1,397.7 L574.6,391.7 M575.0,386.5 L575.4,380.5 M575.7,375.2 L575.8,373.3 M575.8,373.3 L576.2,367.3 M576.4,362.1 L576.6,356.1 M576.7,350.8 L576.8,346.0 M576.8,346.0 L576.9,340.0 M576.9,334.8 L576.8,328.8 M576.7,323.5 L576.5,317.5 M576.4,315.0 L576.0,309.0 M575.7,303.8 L575.2,297.8 M574.7,292.5 L574.1,286.5 M573.4,281.3 L573.2,279.3 M573.2,279.3 L572.3,273.3 M571.4,268.0 L570.4,262.0 M569.4,256.8 L568.1,250.8 M566.9,245.5 L565.4,239.5 M564.7,237.0 L563.1,231.0 M561.5,225.7 L559.7,219.7 M557.9,214.5 L555.8,208.5 M553.9,203.2 L551.5,197.2 M549.4,192.0 L546.9,186.0 M546.6,185.3 L543.9,179.3 M541.5,174.0 L538.7,168.0 M536.1,162.8 L533.1,156.8 M530.5,151.5 L527.3,145.5 M524.6,140.3 L521.4,134.3 M518.5,129.0 L515.3,123.0 M607.5,569.8 L609.1,563.8 M610.5,558.5 L612.1,552.5 M613.5,547.2 L613.7,546.6 M613.7,546.6 L615.3,540.6 M616.7,535.4 L617.1,534.1 M617.1,534.1 L618.7,528.1 M620.2,522.8 L620.7,520.8 M620.7,520.8 L622.4,514.8 M623.8,509.6 L624.6,506.8 M624.6,506.8 L626.2,500.8 M627.7,495.5 L628.7,491.8 M628.7,491.8 L630.4,485.8 M631.8,480.5 L633.2,475.8 M633.2,475.8 L634.8,469.8 M636.3,464.5 L637.9,458.6 M637.9,458.6 L639.6,452.6 M641.1,447.3 L642.7,441.3 M643.1,440.0 L644.8,434.0 M646.2,428.8 L647.9,422.8 M648.7,419.9 L650.4,413.9 M651.9,408.6 L653.5,402.6 M654.9,397.7 L656.5,391.7 M658.0,386.5 L659.6,380.5 M661.1,375.2 L661.6,373.3 M661.6,373.3 L663.2,367.3 M664.7,362.1 L666.3,356.1 M667.7,350.8 L669.0,346.0 M669.0,346.0 L670.6,340.0 M672.0,334.8 L673.6,328.8 M675.0,323.5 L676.5,317.5 M677.2,315.0 L678.7,309.0 M680.0,303.8 L681.6,297.8 M682.9,292.5 L684.4,286.5 M685.7,281.3 L686.1,279.3 M686.1,279.3 L687.6,273.3 M688.8,268.0 L690.3,262.0 M691.5,256.8 L692.8,250.8 M694.0,245.5 L695.3,239.5 M695.9,237.0 L697.2,231.0 M698.3,225.7 L699.5,219.7 M700.5,214.5 L701.7,208.5 M702.7,203.2 L703.8,197.2 M704.7,192.0 L705.8,186.0 M705.9,185.3 L706.9,179.3 M707.7,174.0 L708.6,168.0 M709.3,162.8 L710.1,156.8 M710.7,151.5 L711.4,145.5 M712.0,140.3 L712.5,134.3 M713.0,129.0 L713.4,123.0"/>
<path stroke="#5c5c10" d="M112.5,569.8 L116.3,564.8 M120.6,559.1 L121.0,558.5 M121.0,558.5 L124.8,553.5 M129.2,547.8 L130.0,546.6 M130.0,546.6 L133.8,541.6 M138.2,535.9 L139.5,534.1 M139.5,534.1 L143.3,529.1 M147.7,523.3 L149.6,520.8 M149.6,520.8 L153.4,515.8 M157.7,510.1 L160.2,506.8 M160.2,506.8 L164.0,501.8 M168.4,496.0 L171.6,491.8 M171.6,491.8 L175.4,486.8 M179.8,481.0 L183.6,476.0 M183.8,475.8 L187.6,470.8 M192.0,465.0 L195.8,460.0 M196.9,458.6 L200.8,453.6 M205.2,447.8 L209.0,442.8 M211.1,440.0 L215.0,435.0 M219.4,429.3 L223.2,424.3 M226.6,419.9 L230.5,414.9 M234.9,409.1 L238.7,404.1 M243.2,398.4 L243.6,397.7 M243.6,397.7 L247.5,392.7 M251.9,387.0 L255.8,382.0 M260.2,376.2 L262.5,373.3 M262.5,373.3 L266.3,368.3 M270.8,362.6 L274.6,357.6 M279.1,351.8 L283.0,346.8 M283.6,346.0 L287.5,341.0 M291.9,335.3 L295.8,330.3 M300.3,324.5 L304.2,319.5 M307.6,315.0 L311.5,310.0 M316.0,304.3 L319.9,299.3 M324.4,293.5 L328.3,288.5 M332.7,282.8 L335.5,279.3 M335.5,279.3 L339.4,274.3 M343.9,268.5 L347.8,263.5 M352.3,257.8 L356.2,252.8 M360.7,247.0 L364.6,242.0 M368.5,237.0 L372.5,232.0 M377.0,226.2 L380.9,221.2 M385.4,215.5 L389.3,210.5 M393.9,204.7 L397.8,199.7 M402.3,194.0 L406.3,189.0 M409.2,185.3 L413.2,180.3 M417.7,174.5 L421.6,169.5 M426.2,163.8 L430.1,158.8 M434.7,153.0 L438.6,148.0 M443.2,142.3 L447.1,137.3 M451.7,131.5 L455.6,126.5 M460.2,120.8 L462.0,118.5 M153.4,569.8 L157.1,564.8 M161.4,559.1 L161.8,558.5 M161.8,558.5 L165.5,553.5 M169.7,547.8 L170.6,546.6 M170.6,546.6 L174.3,541.6 M178.5,535.9 L179.8,534.1 M179.8,534.1 L183.5,529.1 M187.8,523.3 L189.7,520.8 M189.7,520.8 L193.4,515.8 M197.7,510.1 L200.1,506.8 M200.1,506.8 L203.8,501.8 M208.1,496.0 L211.3,491.8 M211.3,491.8 L215.0,486.8 M219.3,481.0 L223.0,476.0 M223.2,475.8 L226.9,470.8 M231.2,465.0 L235.0,460.0 M236.0,458.6 L239.8,453.6 M244.1,447.8 L247.9,442.8 M250.0,440.0 L253.7,435.0 M258.0,429.3 L261.8,424.3 M265.1,419.9 L268.9,414.9 M273.2,409.1 L277.0,404.1 M281.3,398.4 L281.8,397.7 M281.8,397.7 L285.6,392.7 M289.9,387.0 L293.7,382.0 M298.0,376.2 L300.3,373.3 M300.3,373.3 L304.0,368.3 M308.4,362.6 L312.2,357.6 M316.6,351.8 L320.4,346.8 M321.0,346.0 L324.8,341.0 M329.2,335.3 L333.0,330.3 M337.3,324.5 L341.2,319.5 M344.6,315.0 L348.4,310.0 M352.8,304.3 L356.6,299.3 M361.0,293.5 L364.8,288.5 M369.2,282.8 L371.9,279.3 M371.9,279.3 L375.7,274.3 M380.1,268.5 L384.0,263.5 M388.4,257.8 L392.2,252.8 M396.6,247.0 L400.5,242.0 M404.4,237.0 L408.2,232.0 M412.7,226.2 L416.5,221.2 M420.9,215.5 L424.8,210.5 M429.2,204.7 L433.1,199.7 M437.6,194.0 L441.4,189.0 M444.3,185.3 L448.2,180.3 M452.7,174.5 L456.5,169.5 M461.0,163.8 L464.9,158.8 M469.4,153.0 L473.3,148.0 M477.7,142.3 L481.6,137.3 M486.1,131.5 L490.0,126.5 M494.5,120.8 L496.2,118.5 M224.2,569.8 L227.8,564.8 M231.8,559.1 L232.2,558.5 M232.2,558.5 L235.8,553.5 M239.8,547.8 L240.7,546.6 M240.7,546.6 L244.2,541.6 M248.3,535.9 L249.6,534.1 M249.6,534.1 L253.1,529.1 M257.2,523.3 L259.0,520.8 M259.0,520.8 L262.6,515.8 M266.7,510.1 L269.0,506.8 M269.0,506.8 L272.6,501.8 M276.7,496.0 L279.7,491.8 M279.7,491.8 L283.3,486.8 M287.4,481.0 L291.0,476.0 M291.2,475.8 L294.8,470.8 M298.9,465.0 L302.5,460.0 M303.6,458.6 L307.2,453.6 M311.3,447.8 L314.9,442.8 M317.0,440.0 L320.6,435.0 M324.7,429.3 L328.3,424.3 M331.6,419.9 L335.2,414.9 M339.4,409.1 L343.0,404.1 M347.2,398.4 L347.6,397.7 M347.6,397.7 L351.2,392.7 M355.4,387.0 L359.1,382.0 M363.3,376.2 L365.4,373.3 M365.4,373.3 L369.1,368.3 M373.3,362.6 L376.9,357.6 M381.1,351.8 L384.8,346.8 M385.4,346.0 L389.1,341.0 M393.3,335.3 L397.0,330.3 M401.2,324.5 L404.9,319.5 M408.2,315.0 L411.9,310.0 M416.1,304.3 L419.8,299.3 M424.0,293.5 L427.7,288.5 M432.0,282.8 L434.6,279.3 M434.6,279.3 L438.3,274.3 M442.6,268.5 L446.3,263.5 M450.5,257.8 L454.3,252.8 M458.5,247.0 L462.3,242.0 M466.0,237.0 L469.7,232.0 M474.0,226.2 L477.8,221.2 M482.0,215.5 L485.8,210.5 M490.1,204.7 L493.8,199.7 M498.1,194.0 L501.9,189.0 M504.7,185.3 L508.5,180.3 M512.8,174.5 L516.5,169.5 M520.9,163.8 L524.6,158.8 M529.0,153.0 L532.7,148.0 M537.1,142.3 L540.9,137.3 M545.2,131.5 L549.0,126.5 M553.3,120.8 L555.0,118.5 M259.9,569.8 L263.4,564.8 M267.3,559.1 L267.7,558.5 M267.7,558.5 L271.2,553.5 M275.2,547.8 L276.0,546.6 M276.0,546.6 L279.4,541.6 M283.4,535.9 L284.7,534.1 M284.7,534.1 L288.2,529.1 M292.2,523.3 L293.9,520.8 M293.9,520.8 L297.4,515.8 M301.4,510.1 L303.7,506.8 M303.7,506.8 L307.2,501.8 M311.2,496.0 L314.2,491.8 M314.2,491.8 L317.7,486.8 M321.7,481.0 L325.2,476.0 M325.4,475.8 L328.9,470.8 M333.0,465.0 L336.5,460.0 M337.5,458.6 L341.1,453.6 M345.1,447.8 L348.7,442.8 M350.6,440.0 L354.2,435.0 M358.3,429.3 L361.8,424.3 M365.0,419.9 L368.5,414.9 M372.6,409.1 L376.2,404.1 M380.3,398.4 L380.7,397.7 M380.7,397.7 L384.3,392.7 M388.4,387.0 L391.9,382.0 M396.0,376.2 L398.2,373.3 M398.2,373.3 L401.7,368.3 M405.9,362.6 L409.4,357.6 M413.6,351.8 L417.2,346.8 M417.8,346.0 L421.4,341.0 M425.5,335.3 L429.1,330.3 M433.3,324.5 L436.9,319.5 M440.1,315.0 L443.7,310.0 M447.9,304.3 L451.5,299.3 M455.7,293.5 L459.3,288.5 M463.5,282.8 L466.0,279.3 M466.0,279.3 L469.7,274.3 M473.9,268.5 L477.5,263.5 M481.7,257.8 L485.4,252.8 M489.6,247.0 L493.2,242.0 M496.9,237.0 L500.6,232.0 M504.8,226.2 L508.4,221.2 M512.7,215.5 L516.3,210.5 M520.6,204.7 L524.3,199.7 M528.5,194.0 L532.2,189.0 M534.9,185.3 L538.6,180.3 M542.9,174.5 L546.6,169.5 M550.8,163.8 L554.5,158.8 M558.8,153.0 L562.5,148.0 M566.8,142.3 L570.5,137.3 M574.8,131.5 L578.5,126.5 M582.8,120.8 L584.4,118.5 M311.5,569.8 L314.8,564.8 M318.6,559.1 L319.0,558.5 M319.0,558.5 L322.4,553.5 M326.2,547.8 L327.0,546.6 M327.0,546.6 L330.3,541.6 M334.2,535.9 L335.4,534.1 M335.4,534.1 L338.7,529.1 M342.6,523.3 L344.3,520.8 M344.3,520.8 L347.7,515.8 M351.6,510.1 L353.8,506.8 M353.8,506.8 L357.2,501.8 M361.1,496.0 L363.9,491.8 M363.9,491.8 L367.3,486.8 M371.2,481.0 L374.6,476.0 M374.8,475.8 L378.2,470.8 M382.1,465.0 L385.5,460.0 M386.5,458.6 L389.9,453.6 M393.9,447.8 L397.3,442.8 M399.2,440.0 L402.7,435.0 M406.6,429.3 L410.1,424.3 M413.1,419.9 L416.5,414.9 M420.5,409.1 L424.0,404.1 M427.9,398.4 L428.4,397.7 M428.4,397.7 L431.8,392.7 M435.8,387.0 L439.3,382.0 M443.3,376.2 L445.3,373.3 M445.3,373.3 L448.8,368.3 M452.8,362.6 L456.3,357.6 M460.3,351.8 L463.8,346.8 M464.4,346.0 L467.9,341.0 M471.9,335.3 L475.4,330.3 M479.4,324.5 L482.9,319.5 M486.1,315.0 L489.6,310.0 M493.6,304.3 L497.2,299.3 M501.2,293.5 L504.7,288.5 M508.8,282.8 L511.3,279.3 M511.3,279.3 L514.8,274.3 M518.9,268.5 L522.5,263.5 M526.5,257.8 L530.1,252.8 M534.2,247.0 L537.7,242.0 M541.3,237.0 L544.9,232.0 M549.0,226.2 L552.6,221.2 M556.7,215.5 L560.3,210.5 M564.4,204.7 L568.0,199.7 M572.1,194.0 L575.7,189.0 M578.4,185.3 L582.0,180.3 M586.1,174.5 L589.8,169.5 M593.9,163.8 L597.5,158.8 M601.7,153.0 L605.3,148.0 M609.5,142.3 L613.1,137.3 M617.3,131.5 L620.9,126.5 M625.1,120.8 L626.7,118.5 M343.4,569.8 L346.7,564.8 M350.4,559.1 L350.8,558.5 M350.8,558.5 L354.1,553.5 M357.8,547.8 L358.6,546.6 M358.6,546.6 L361.8,541.6 M365.6,535.9 L366.8,534.1 M366.8,534.1 L370.1,529.1 M373.9,523.3 L375.5,520.8 M375.5,520.8 L378.8,515.8 M382.6,510.1 L384.8,506.8 M384.8,506.8 L388.1,501.8 M391.9,496.0 L394.7,491.8 M394.7,491.8 L398.0,486.8 M401.9,481.0 L405.2,476.0 M405.4,475.8 L408.7,470.8 M412.5,465.0 L415.9,460.0 M416.8,458.6 L420.2,453.6 M424.0,447.8 L427.4,442.8 M429.3,440.0 L432.7,435.0 M436.5,429.3 L439.9,424.3 M442.9,419.9 L446.3,414.9 M450.2,409.1 L453.5,404.1 M457.4,398.4 L457.8,397.7 M457.8,397.7 L461.2,392.7 M465.1,387.0 L468.5,382.0 M472.5,376.2 L474.5,373.3 M474.5,373.3 L477.9,368.3 M481.8,362.6 L485.2,357.6 M489.2,351.8 L492.6,346.8 M493.1,346.0 L496.6,341.0 M500.5,335.3 L504.0,330.3 M507.9,324.5 L511.4,319.5 M514.5,315.0 L517.9,310.0 M521.9,304.3 L525.4,299.3 M529.3,293.5 L532.8,288.5 M536.8,282.8 L539.2,279.3 M539.2,279.3 L542.7,274.3 M546.7,268.5 L550.2,263.5 M554.2,257.8 L557.7,252.8 M561.7,247.0 L565.2,242.0 M568.8,237.0 L572.3,232.0 M576.3,226.2 L579.8,221.2 M583.9,215.5 L587.4,210.5 M591.4,204.7 L595.0,199.7 M599.0,194.0 L602.6,189.0 M605.2,185.3 L608.8,180.3 M612.8,174.5 L616.4,169.5 M620.5,163.8 L624.0,158.8 M628.1,153.0 L631.7,148.0 M635.8,142.3 L639.3,137.3 M643.4,131.5 L647.0,126.5 M651.1,120.8 L652.7,118.5 M366.9,569.8 L370.1,564.8 M373.8,559.1 L374.2,558.5 M374.2,558.5 L377.4,553.5 M381.1,547.8 L381.8,546.6 M381.8,546.6 L385.1,541.6 M388.8,535.9 L389.9,534.1 M389.9,534.1 L393.1,529.1 M396.9,523.3 L398.5,520.8 M398.5,520.8 L401.7,515.8 M405.5,510.1 L407.6,506.8 M407.6,506.8 L410.9,501.8 M414.6,496.0 L417.4,491.8 M417.4,491.8 L420.6,486.8 M424.4,481.0 L427.7,476.0 M427.8,475.8 L431.1,470.8 M434.9,465.0 L438.2,460.0 M439.1,458.6 L442.4,453.6 M446.2,447.8 L449.5,442.8 M451.4,440.0 L454.7,435.0 M458.5,429.3 L461.8,424.3 M464.8,419.9 L468.1,414.9 M471.9,409.1 L475.3,404.1 M479.1,398.4 L479.5,397.7 M479.5,397.7 L482.9,392.7 M486.7,387.0 L490.1,382.0 M493.9,376.2 L495.9,373.3 M495.9,373.3 L499.3,368.3 M503.1,362.6 L506.5,357.6 M510.4,351.8 L513.8,346.8 M514.3,346.0 L517.7,341.0 M521.6,335.3 L525.0,330.3 M528.9,324.5 L532.3,319.5 M535.3,315.0 L538.7,310.0 M542.6,304.3 L546.1,299.3 M550.0,293.5 L553.4,288.5 M557.3,282.8 L559.7,279.3 M559.7,279.3 L563.2,274.3 M567.1,268.5 L570.6,263.5 M574.5,257.8 L578.0,252.8 M581.9,247.0 L585.4,242.0 M588.9,237.0 L592.3,232.0 M596.3,226.2 L599.8,221.2 M603.8,215.5 L607.3,210.5 M611.3,204.7 L614.8,199.7 M618.8,194.0 L622.3,189.0 M624.9,185.3 L628.4,180.3 M632.4,174.5 L635.9,169.5 M639.9,163.8 L643.5,158.8 M647.5,153.0 L651.0,148.0 M655.1,142.3 L658.6,137.3 M662.7,131.5 L666.2,126.5 M670.3,120.8 L671.8,118.5 M385.7,569.8 L388.8,564.8 M392.5,559.1 L392.8,558.5 M392.8,558.5 L396.0,553.5 M399.6,547.8 L400.4,546.6 M400.4,546.6 L403.5,541.6 M407.2,535.9 L408.3,534.1 M408.3,534.1 L411.5,529.1 M415.2,523.3 L416.8,520.8 M416.8,520.8 L420.0,515.8 M423.7,510.1 L425.8,506.8 M425.8,506.8 L429.0,501.8 M432.7,496.0 L435.4,491.8 M435.4,491.8 L438.7,486.8 M442.4,481.0 L445.6,476.0 M445.8,475.8 L449.0,470.8 M452.7,465.0 L456.0,460.0 M456.9,458.6 L460.2,453.6 M463.9,447.8 L467.2,442.8 M469.0,440.0 L472.3,435.0 M476.0,429.3 L479.3,424.3 M482.2,419.9 L485.5,414.9 M489.3,409.1 L492.6,404.1 M496.4,398.4 L496.8,397.7 M496.8,397.7 L500.1,392.7 M503.9,387.0 L507.2,382.0 M511.0,376.2 L512.9,373.3 M512.9,373.3 L516.3,368.3 M520.1,362.6 L523.4,357.6 M527.3,351.8 L530.6,346.8 M531.1,346.0 L534.5,341.0 M538.3,335.3 L541.7,330.3 M545.5,324.5 L548.9,319.5 M551.9,315.0 L555.3,310.0 M559.2,304.3 L562.5,299.3 M566.4,293.5 L569.8,288.5 M573.7,282.8 L576.1,279.3 M576.1,279.3 L579.5,274.3 M583.4,268.5 L586.8,263.5 M590.7,257.8 L594.1,252.8 M598.0,247.0 L601.4,242.0 M604.9,237.0 L608.3,232.0 M612.3,226.2 L615.7,221.2 M619.6,215.5 L623.1,210.5 M627.1,204.7 L630.5,199.7 M634.5,194.0 L637.9,189.0 M640.5,185.3 L644.0,180.3 M648.0,174.5 L651.4,169.5 M655.4,163.8 L658.9,158.8 M662.9,153.0 L666.4,148.0 M670.4,142.3 L673.9,137.3 M677.9,131.5 L681.4,126.5 M685.4,120.8 L687.0,118.5 M420.9,569.8 L424.0,564.8 M427.5,559.1 L427.9,558.5 M427.9,558.5 L430.9,553.5 M434.5,547.8 L435.2,546.6 M435.2,546.6 L438.3,541.6 M441.8,535.9 L442.9,534.1 M442.9,534.1 L446.0,529.1 M449.6,523.3 L451.2,520.8 M451.2,520.8 L454.3,515.8 M457.9,510.1 L459.9,506.8 M459.9,506.8 L463.1,501.8 M466.7,496.0 L469.3,491.8 M469.3,491.8 L472.5,486.8 M476.1,481.0 L479.2,476.0 M479.4,475.8 L482.5,470.8 M486.2,465.0 L489.3,460.0 M490.2,458.6 L493.4,453.6 M497.1,447.8 L500.2,442.8 M502.0,440.0 L505.2,435.0 M508.9,429.3 L512.1,424.3 M514.9,419.9 L518.1,414.9 M521.8,409.1 L525.0,404.1 M528.7,398.4 L529.1,397.7 M529.1,397.7 L532.4,392.7 M536.1,387.0 L539.3,382.0 M543.0,376.2 L544.9,373.3 M544.9,373.3 L548.2,368.3 M551.9,362.6 L555.2,357.6 M558.9,351.8 L562.2,346.8 M562.7,346.0 L566.0,341.0 M569.7,335.3 L573.0,330.3 M576.8,324.5 L580.1,319.5 M583.0,315.0 L586.3,310.0 M590.1,304.3 L593.4,299.3 M597.2,293.5 L600.5,288.5 M604.3,282.8 L606.7,279.3 M606.7,279.3 L610.0,274.3 M613.8,268.5 L617.1,263.5 M621.0,257.8 L624.3,252.8 M628.2,247.0 L631.5,242.0 M634.9,237.0 L638.2,232.0 M642.1,226.2 L645.5,221.2 M649.3,215.5 L652.7,210.5 M656.6,204.7 L660.0,199.7 M663.9,194.0 L667.3,189.0 M669.8,185.3 L673.2,180.3 M677.1,174.5 L680.5,169.5 M684.4,163.8 L687.8,158.8 M691.8,153.0 L695.2,148.0 M699.1,142.3 L702.6,137.3 M706.5,131.5 L709.9,126.5 M713.9,120.8 L715.4,118.5 M446.8,569.8 L449.8,564.8 M453.3,559.1 L453.6,558.5 M453.6,558.5 L456.6,553.5 M460.1,547.8 L460.8,546.6 M460.8,546.6 L463.8,541.6 M467.3,535.9 L468.4,534.1 M468.4,534.1 L471.4,529.1 M474.9,523.3 L476.4,520.8 M476.4,520.8 L479.5,515.8 M483.0,510.1 L485.0,506.8 M485.0,506.8 L488.1,501.8 M491.6,496.0 L494.2,491.8 M494.2,491.8 L497.3,486.8 M500.8,481.0 L503.9,476.0 M504.1,475.8 L507.2,470.8 M510.7,465.0 L513.8,460.0 M514.7,458.6 L517.8,453.6 M521.4,447.8 L524.6,442.8 M526.3,440.0 L529.4,435.0 M533.0,429.3 L536.2,424.3 M539.0,419.9 L542.1,414.9 M545.7,409.1 L548.9,404.1 M552.5,398.4 L552.9,397.7 M552.9,397.7 L556.1,392.7 M559.7,387.0 L562.9,382.0 M566.6,376.2 L568.4,373.3 M568.4,373.3 L571.6,368.3 M575.3,362.6 L578.5,357.6 M582.2,351.8 L585.4,346.8 M585.9,346.0 L589.1,341.0 M592.8,335.3 L596.0,330.3 M599.7,324.5 L603.0,319.5 M605.9,315.0 L609.1,310.0 M612.8,304.3 L616.1,299.3 M619.8,293.5 L623.1,288.5 M626.8,282.8 L629.1,279.3 M629.1,279.3 L632.4,274.3 M636.1,268.5 L639.4,263.5 M643.2,257.8 L646.5,252.8 M650.3,247.0 L653.6,242.0 M656.9,237.0 L660.2,232.0 M664.0,226.2 L667.3,221.2 M671.1,215.5 L674.4,210.5 M678.3,204.7 L681.6,199.7 M685.4,194.0 L688.8,189.0 M691.3,185.3 L694.6,180.3 M698.5,174.5 L701.8,169.5 M705.7,163.8 L709.1,158.8 M712.9,153.0 L716.3,148.0 M720.2,142.3 L723.6,137.3 M727.4,131.5 L730.8,126.5 M734.7,120.8 L736.2,118.5 M484.7,569.8 L487.6,564.8 M490.9,559.1 L491.2,558.5 M491.2,558.5 L494.2,553.5 M497.5,547.8 L498.2,546.6 M498.2,546.6 L501.1,541.6 M504.5,535.9 L505.5,534.1 M505.5,534.1 L508.5,529.1 M511.9,523.3 L513.3,520.8 M513.3,520.8 L516.3,515.8 M519.7,510.1 L521.7,506.8 M521.7,506.8 L524.6,501.8 M528.0,496.0 L530.6,491.8 M530.6,491.8 L533.5,486.8 M537.0,481.0 L540.0,476.0 M540.1,475.8 L543.1,470.8 M546.6,465.0 L549.6,460.0 M550.5,458.6 L553.5,453.6 M557.0,447.8 L560.0,442.8 M561.7,440.0 L564.7,435.0 M568.2,429.3 L571.3,424.3 M574.0,419.9 L577.1,414.9 M580.6,409.1 L583.6,404.1 M587.2,398.4 L587.5,397.7 M587.5,397.7 L590.6,392.7 M594.2,387.0 L597.3,382.0 M600.8,376.2 L602.6,373.3 M602.6,373.3 L605.7,368.3 M609.3,362.6 L612.4,357.6 M616.0,351.8 L619.1,346.8 M619.7,346.0 L622.8,341.0 M626.4,335.3 L629.5,330.3 M633.1,324.5 L636.3,319.5 M639.1,315.0 L642.3,310.0 M645.9,304.3 L649.1,299.3 M652.7,293.5 L655.9,288.5 M659.6,282.8 L661.8,279.3 M661.8,279.3 L665.0,274.3 M668.7,268.5 L671.9,263.5 M675.5,257.8 L678.7,252.8 M682.4,247.0 L685.7,242.0 M688.9,237.0 L692.1,232.0 M695.8,226.2 L699.1,221.2 M702.8,215.5 L706.1,210.5 M709.8,204.7 L713.0,199.7 M716.8,194.0 L720.1,189.0 M722.5,185.3 L725.8,180.3 M729.5,174.5 L732.8,169.5 M736.6,163.8 L739.9,158.8 M743.7,153.0 L747.0,148.0 M750.8,142.3 L754.1,137.3 M757.9,131.5 L761.2,126.5 M765.0,120.8 L766.5,118.5 M512.4,569.8 L515.3,564.8 M518.5,559.1 L518.8,558.5 M518.8,558.5 L521.7,553.5 M524.9,547.8 L525.6,546.6 M525.6,546.6 L528.5,541.6 M531.7,535.9 L532.8,534.1 M532.8,534.1 L535.6,529.1 M538.9,523.3 L540.4,520.8 M540.4,520.8 L543.3,515.8 M546.6,510.1 L548.5,506.8 M548.5,506.8 L551.4,501.8 M554.7,496.0 L557.2,491.8 M557.2,491.8 L560.1,486.8 M563.5,481.0 L566.4,476.0 M566.5,475.8 L569.5,470.8 M572.9,465.0 L575.8,460.0 M576.6,458.6 L579.6,453.6 M583.0,447.8 L586.0,442.8 M587.6,440.0 L590.6,435.0 M594.0,429.3 L597.0,424.3 M599.7,419.9 L602.6,414.9 M606.1,409.1 L609.1,404.1 M612.6,398.4 L612.9,397.7 M612.9,397.7 L615.9,392.7 M619.4,387.0 L622.4,382.0 M625.9,376.2 L627.7,373.3 M627.7,373.3 L630.7,368.3 M634.2,362.6 L637.3,357.6 M640.8,351.8 L643.9,346.8 M644.4,346.0 L647.4,341.0 M651.0,335.3 L654.1,330.3 M657.6,324.5 L660.7,319.5 M663.4,315.0 L666.5,310.0 M670.1,304.3 L673.2,299.3 M676.8,293.5 L679.9,288.5 M683.5,282.8 L685.7,279.3 M685.7,279.3 L688.8,274.3 M692.4,268.5 L695.6,263.5 M699.2,257.8 L702.3,252.8 M706.0,247.0 L709.1,242.0 M712.3,237.0 L715.5,232.0 M719.1,226.2 L722.3,221.2 M726.0,215.5 L729.2,210.5 M732.8,204.7 L736.0,199.7 M739.7,194.0 L742.9,189.0 M745.3,185.3 L748.6,180.3 M752.3,174.5 L755.5,169.5 M759.2,163.8 L762.4,158.8 M766.2,153.0 L769.4,148.0 M773.1,142.3 L776.4,137.3 M780.1,131.5 L783.4,126.5 M787.2,120.8 L788.6,118.5 M534.5,569.8 L537.2,564.8 M540.4,559.1 L540.7,558.5 M540.7,558.5 L543.5,553.5 M546.7,547.8 L547.4,546.6 M547.4,546.6 L550.2,541.6 M553.4,535.9 L554.4,534.1 M554.4,534.1 L557.2,529.1 M560.4,523.3 L561.8,520.8 M561.8,520.8 L564.7,515.8 M567.9,510.1 L569.8,506.8 M569.8,506.8 L572.6,501.8 M575.9,496.0 L578.3,491.8 M578.3,491.8 L581.2,486.8 M584.5,481.0 L587.4,476.0 M587.5,475.8 L590.4,470.8 M593.7,465.0 L596.6,460.0 M597.4,458.6 L600.3,453.6 M603.6,447.8 L606.6,442.8 M608.2,440.0 L611.1,435.0 M614.5,429.3 L617.4,424.3 M620.0,419.9 L622.9,414.9 M626.3,409.1 L629.3,404.1 M632.7,398.4 L633.0,397.7 M633.0,397.7 L636.0,392.7 M639.4,387.0 L642.4,382.0 M645.8,376.2 L647.6,373.3 M647.6,373.3 L650.6,368.3 M654.0,362.6 L657.0,357.6 M660.5,351.8 L663.5,346.8 M664.0,346.0 L667.0,341.0 M670.5,335.3 L673.5,330.3 M677.0,324.5 L680.0,319.5 M682.7,315.0 L685.8,310.0 M689.3,304.3 L692.3,299.3 M695.9,293.5 L698.9,288.5 M702.5,282.8 L704.6,279.3 M704.6,279.3 L707.7,274.3 M711.3,268.5 L714.4,263.5 M717.9,257.8 L721.0,252.8 M724.6,247.0 L727.7,242.0 M730.9,237.0 L734.0,232.0 M737.6,226.2 L740.7,221.2 M744.3,215.5 L747.5,210.5 M751.1,204.7 L754.2,199.7 M757.9,194.0 L761.0,189.0 M763.4,185.3 L766.6,180.3 M770.2,174.5 L773.4,169.5 M777.1,163.8 L780.3,158.8 M783.9,153.0 L787.1,148.0 M790.8,142.3 L794.0,137.3 M797.7,131.5 L801.0,126.5 M804.7,120.8 L806.1,118.5 M552.8,569.8 L555.5,564.8 M558.6,559.1 L558.9,558.5 M558.9,558.5 L561.7,553.5 M564.8,547.8 L565.4,546.6 M565.4,546.6 L568.2,541.6 M571.4,535.9 L572.3,534.1 M572.3,534.1 L575.1,529.1 M578.3,523.3 L579.7,520.8 M579.7,520.8 L582.5,515.8 M585.7,510.1 L587.5,506.8 M587.5,506.8 L590.3,501.8 M593.5,496.0 L595.9,491.8 M595.9,491.8 L598.7,486.8 M601.9,481.0 L604.8,476.0 M604.9,475.8 L607.7,470.8 M611.0,465.0 L613.8,460.0 M614.7,458.6 L617.5,453.6 M620.8,447.8 L623.7,442.8 M625.3,440.0 L628.1,435.0 M631.5,429.3 L634.3,424.3 M636.9,419.9 L639.8,414.9 M643.1,409.1 L646.0,404.1 M649.4,398.4 L649.7,397.7 M649.7,397.7 L652.7,392.7 M656.0,387.0 L658.9,382.0 M662.3,376.2 L664.1,373.3 M664.1,373.3 L667.0,368.3 M670.4,362.6 L673.3,357.6 M676.8,351.8 L679.7,346.8 M680.2,346.0 L683.2,341.0 M686.6,335.3 L689.6,330.3 M693.0,324.5 L696.0,319.5 M698.7,315.0 L701.7,310.0 M705.2,304.3 L708.2,299.3 M711.7,293.5 L714.7,288.5 M718.2,282.8 L720.3,279.3 M720.3,279.3 L723.4,274.3 M726.9,268.5 L729.9,263.5 M733.5,257.8 L736.5,252.8 M740.1,247.0 L743.1,242.0 M746.2,237.0 L749.3,232.0 M752.9,226.2 L756.0,221.2 M759.5,215.5 L762.6,210.5 M766.2,204.7 L769.3,199.7 M772.9,194.0 L776.0,189.0 M778.4,185.3 L781.5,180.3 M785.1,174.5 L788.3,169.5 M791.9,163.8 L795.1,158.8 M798.7,153.0 L801.8,148.0 M805.5,142.3 L808.7,137.3 M812.3,131.5 L815.5,126.5 M819.2,120.8 L820.6,118.5 M582.2,569.8 L584.8,564.8 M587.9,559.1 L588.2,558.5 M588.2,558.5 L590.8,553.5 M593.9,547.8 L594.5,546.6 M594.5,546.6 L597.1,541.6 M600.2,535.9 L601.2,534.1 M601.2,534.1 L603.9,529.1 M606.9,523.3 L608.3,520.8 M608.3,520.8 L611.0,515.8 M614.1,510.1 L615.9,506.8 M615.9,506.8 L618.6,501.8 M621.7,496.0 L624.0,491.8 M624.0,491.8 L626.8,486.8 M629.9,481.0 L632.7,476.0 M632.8,475.8 L635.6,470.8 M638.8,465.0 L641.5,460.0 M642.3,458.6 L645.1,453.6 M648.3,447.8 L651.1,442.8 M652.7,440.0 L655.5,435.0 M658.7,429.3 L661.5,424.3 M664.0,419.9 L666.8,414.9 M670.1,409.1 L672.9,404.1 M676.2,398.4 L676.5,397.7 M676.5,397.7 L679.4,392.7 M682.6,387.0 L685.5,382.0 M688.8,376.2 L690.5,373.3 M690.5,373.3 L693.4,368.3 M696.7,362.6 L699.6,357.6 M702.9,351.8 L705.8,346.8 M706.3,346.0 L709.2,341.0 M712.5,335.3 L715.4,330.3 M718.8,324.5 L721.7,319.5 M724.4,315.0 L727.3,310.0 M730.7,304.3 L733.6,299.3 M737.0,293.5 L740.0,288.5 M743.4,282.8 L745.5,279.3 M745.5,279.3 L748.5,274.3 M751.9,268.5 L754.9,263.5 M758.3,257.8 L761.3,252.8 M764.8,247.0 L767.8,242.0 M770.9,237.0 L773.9,232.0 M777.4,226.2 L780.4,221.2 M783.9,215.5 L786.9,210.5 M790.4,204.7 L793.5,199.7 M797.0,194.0 L800.1,189.0 M802.4,185.3 L805.4,180.3 M809.0,174.5 L812.1,169.5 M815.6,163.8 L818.7,158.8 M822.3,153.0 L825.4,148.0 M829.0,142.3 L832.1,137.3 M835.7,131.5 L838.8,126.5 M842.4,120.8 L843.8,118.5"/>
<path stroke="#0808c8" d="M-419.5,568.5 L124.5,24.5 M-359.5,568.5 L184.5,24.5 M-299.5,568.5 L244.5,24.5 M-239.5,568.5 L304.5,24.5 M-179.5,568.5 L364.5,24.5 M-119.5,568.5 L424.5,24.5 M-59.5,568.5 L484.5,24.5 M0.5,568.5 L544.5,24.5 M60.5,568.5 L604.5,24.5 M120.5,568.5 L664.5,24.5 M180.5,568.5 L724.5,24.5 M240.5,568.5 L784.5,24.5 M300.5,568.5 L844.5,24.5 M360.5,568.5 L904.5,24.5 M420.5,568.5 L964.5,24.5 M480.5,568.5 L1024.5,24.5 M540.5,568.5 L1084.5,24.5 M600.5,568.5 L1144.5,24.5 M660.5,568.5 L1204.5,24.5"/>
</g>
<path stroke="#0808c8" stroke-width="1" fill="none" shape-rendering="crispEdges" d="M60.0,24.5 H660.0 M60.0,118.5 H660.0 M60.0,185.5 H660.0 M60.0,236.5 H660.0 M60.0,279.5 H660.0 M60.0,314.5 H660.0 M60.0,345.5 H660.0 M60.0,373.5 H660.0 M60.0,397.5 H660.0 M60.0,419.5 H660.0 M60.0,439.5 H660.0 M60.0,458.5 H660.0 M60.0,475.5 H660.0 M60.0,491.5 H660.0 M60.0,506.5 H660.0 M60.0,520.5 H660.0 M60.0,533.5 H660.0 M60.0,546.5 H660.0 M60.0,558.5 H660.0"/>
<rect x="60.5" y="24.5" width="599.0" height="544.0" fill="none" stroke="#0808c8" stroke-width="1" shape-rendering="crispEdges"/>
<path d="M213.75,37.00 L221.50,75.00 L233.75,118.50 L243.75,150.00 L258.75,190.00 L282.50,241.25 L310.00,290.00 L350.00,352.50 L370.00,385.00 L386.25,417.50 L396.25,440.00 L401.25,448.75 L410.00,461.25 L425.00,476.25 L440.00,491.25 L455.00,505.00 L470.00,518.75 L485.00,532.50 L495.00,540.00" fill="none" stroke="#0808c0" stroke-width="2" stroke-linejoin="round" shape-rendering="crispEdges"/>
<path d="M472.50,24.50 L411.25,118.50 L380.00,151.00 L356.25,174.25 L338.75,185.50 L305.00,190.75 L279.25,208.00 L281.25,236.25 L308.75,278.75 L325.00,310.00 L336.25,327.50 L351.25,350.00 L352.00,360.00 L352.00,397.50 L353.75,419.50 L351.25,430.00 L323.75,520.30 L316.00,526.20 L379.00,537.00 L367.50,540.80 L398.50,540.80" fill="none" stroke="#0c4a10" stroke-width="2" stroke-linejoin="round" shape-rendering="crispEdges"/>
<path d="M543.75,24.50 L458.75,118.50 L428.75,150.00 L403.75,174.25 L382.00,185.50 L347.50,190.75 L341.25,195.50 L327.50,208.00 L329.25,238.75 L356.25,290.00 L370.00,317.50 L386.25,347.50 L397.50,375.00 L405.00,397.50 L420.00,418.75 L422.50,430.00 L423.00,447.50 L480.00,518.75 L483.75,526.25 L486.25,537.30 L463.75,540.80" fill="none" stroke="#b00008" stroke-width="2" stroke-linejoin="round" shape-rendering="crispEdges"/>
<path d="M659.5,24.5 L623.7,28.1 M623.7,28.1 L617.3,11.2 M627.7,27.7 L621.3,10.8 M631.6,27.3 L625.3,10.4 M635.6,26.9 L632.4,18.5 M654.0,24.5 H665.0 M659.5,19.0 V30.0 M659.5,118.5 L623.6,121.3 M623.6,121.3 L617.6,104.4 M627.6,121.0 L621.6,104.0 M631.6,120.7 L625.6,103.7 M635.6,120.4 L629.6,103.4 M654.0,118.5 H665.0 M659.5,113.0 V124.0 M628.5,185.5 L623.5,185.5 M654.0,185.5 H665.0 M659.5,180.0 V191.0 M659.5,208.5 L625.3,219.6 M625.3,219.6 L615.5,204.5 M629.1,218.4 L619.3,203.3 M632.9,217.2 L623.1,202.1 M636.7,215.9 L626.9,200.8 M640.5,214.7 L635.6,207.1 M654.0,208.5 H665.0 M659.5,203.0 V214.0 M659.5,236.5 L624.8,246.2 M624.8,246.2 L615.7,230.7 M628.7,245.1 L619.5,229.6 M632.5,244.0 L623.4,228.5 M636.4,243.0 L627.2,227.5 M654.0,236.5 H665.0 M659.5,231.0 V242.0 M659.5,279.5 L623.6,281.6 M623.6,281.6 L617.9,264.6 M627.6,281.4 L621.9,264.3 M631.5,281.2 L625.9,264.1 M635.5,280.9 L629.9,263.8 M654.0,279.5 H665.0 M659.5,274.0 V285.0 M659.5,345.5 L624.7,354.6 M624.7,354.6 L615.8,339.0 M628.5,353.6 L619.6,338.0 M632.4,352.6 L623.5,337.0 M636.3,351.6 L627.4,336.0 M654.0,345.5 H665.0 M659.5,340.0 V351.0 M659.5,397.5 L628.1,415.2 M628.1,415.2 L615.5,402.3 M631.6,413.2 L619.0,400.3 M635.1,411.2 L628.8,404.8 M654.0,397.5 H665.0 M659.5,392.0 V403.0 M659.5,475.5 L637.0,503.6 M637.0,503.6 L620.5,496.4 M639.5,500.5 L631.3,496.9 M654.0,475.5 H665.0 M659.5,470.0 V481.0 M659.5,520.5 L689.1,540.9 M689.1,540.9 L683.1,557.9 M654.0,520.5 H665.0 M659.5,515.0 V526.0 M659.5,541.5 L647.5,575.5 M654.0,541.5 H665.0 M659.5,536.0 V547.0" fill="none" stroke="#000" stroke-width="1" shape-rendering="crispEdges"/>
<path d="M623.5,185.5 L623.5,167.5 L628.5,185.5 Z" fill="#000" stroke="#000" stroke-width="0.5"/>
<text transform="scale(0.8758,1)" x="34.02 42.14 51.81" y="30.2" font-size="17" fill="#0808c0" stroke="#0808c0" stroke-width="0.4" font-family="DejaVu Sans Light, DejaVu Sans, Liberation Sans, sans-serif" font-weight="200">100</text>
<text transform="scale(0.9604,1)" x="27.09 36.76 46.43" y="191.2" font-size="17" fill="#0808c0" stroke="#0808c0" stroke-width="0.4" font-family="DejaVu Sans Light, DejaVu Sans, Liberation Sans, sans-serif" font-weight="200">200</text>
<text transform="scale(0.9604,1)" x="27.09 36.76 46.43" y="285.2" font-size="17" fill="#0808c0" stroke="#0808c0" stroke-width="0.4" font-family="DejaVu Sans Light, DejaVu Sans, Liberation Sans, sans-serif" font-weight="200">300</text>
<text transform="scale(0.9604,1)" x="27.09 36.76 46.43" y="351.2" font-size="17" fill="#0808c0" stroke="#0808c0" stroke-width="0.4" font-family="DejaVu Sans Light, DejaVu Sans, Liberation Sans, sans-serif" font-weight="200">400</text>
<text transform="scale(0.9604,1)" x="27.09 36.76 46.43" y="403.2" font-size="17" fill="#0808c0" stroke="#0808c0" stroke-width="0.4" font-family="DejaVu Sans Light, DejaVu Sans, Liberation Sans, sans-serif" font-weight="200">500</text>
<text transform="scale(0.9604,1)" x="27.09 36.76 46.43" y="445.2" font-size="17" fill="#0808c0" stroke="#0808c0" stroke-width="0.4" font-family="DejaVu Sans Light, DejaVu Sans, Liberation Sans, sans-serif" font-weight="200">600</text>
<text transform="scale(0.9604,1)" x="27.09 36.76 46.43" y="481.2" font-size="17" fill="#0808c0" stroke="#0808c0" stroke-width="0.4" font-family="DejaVu Sans Light, DejaVu Sans, Liberation Sans, sans-serif" font-weight="200">700</text>
<text transform="scale(0.9604,1)" x="27.09 36.76 46.43" y="512.2" font-size="17" fill="#0808c0" stroke="#0808c0" stroke-width="0.4" font-family="DejaVu Sans Light, DejaVu Sans, Liberation Sans, sans-serif" font-weight="200">800</text>
<text transform="scale(0.9604,1)" x="27.09 36.76 46.43" y="539.2" font-size="17" fill="#0808c0" stroke="#0808c0" stroke-width="0.4" font-family="DejaVu Sans Light, DejaVu Sans, Liberation Sans, sans-serif" font-weight="200">900</text>
<text transform="scale(0.8842,1)" x="23.77 31.90 41.56 51.23" y="564.2" font-size="17" fill="#0808c0" stroke="#0808c0" stroke-width="0.4" font-family="DejaVu Sans Light, DejaVu Sans, Liberation Sans, sans-serif" font-weight="200">1000</text>
<text x="33.2" y="584" font-size="15.5" fill="#0808c0" font-family="DejaVu Sans Light, DejaVu Sans, Liberation Sans, sans-serif" font-weight="200" stroke="#0808c0" stroke-width="0.35" text-anchor="start" textLength="17" lengthAdjust="spacingAndGlyphs">mb</text>
<text transform="scale(0.9336,1)" x="70.20 77.13 85.37 92.30 99.23 108.55 112.45" y="29.5" font-size="14.5" fill="#000" stroke="#000" stroke-width="0.4" font-family="DejaVu Sans Light, DejaVu Sans, Liberation Sans, sans-serif" font-weight="200">16010 m</text>
<text transform="scale(1.0080,1)" x="64.83 71.75 80.00 88.25 96.49 105.81 109.71" y="123.5" font-size="14.5" fill="#000" stroke="#000" stroke-width="0.4" font-family="DejaVu Sans Light, DejaVu Sans, Liberation Sans, sans-serif" font-weight="200">13470 m</text>
<text transform="scale(0.9821,1)" x="66.61 72.22 79.14 87.39 95.64 104.95 108.86" y="190.5" font-size="14.5" fill="#000" stroke="#000" stroke-width="0.4" font-family="DejaVu Sans Light, DejaVu Sans, Liberation Sans, sans-serif" font-weight="200">11670 m</text>
<text transform="scale(1.0080,1)" x="64.83 71.75 80.00 88.25 96.49 105.81 109.71" y="241.5" font-size="14.5" fill="#000" stroke="#000" stroke-width="0.4" font-family="DejaVu Sans Light, DejaVu Sans, Liberation Sans, sans-serif" font-weight="200">10300 m</text>
<text transform="scale(1.0148,1)" x="65.69 72.62 79.55 87.79 97.11 101.01" y="284.5" font-size="14.5" fill="#000" stroke="#000" stroke-width="0.4" font-family="DejaVu Sans Light, DejaVu Sans, Liberation Sans, sans-serif" font-weight="200">9140 m</text>
<text transform="scale(1.0420,1)" x="63.95 72.19 80.44 88.69 98.00 101.91" y="319.5" font-size="14.5" fill="#000" stroke="#000" stroke-width="0.4" font-family="DejaVu Sans Light, DejaVu Sans, Liberation Sans, sans-serif" font-weight="200">8095 m</text>
<text transform="scale(1.0148,1)" x="65.69 72.62 79.55 87.79 97.11 101.01" y="350.5" font-size="14.5" fill="#000" stroke="#000" stroke-width="0.4" font-family="DejaVu Sans Light, DejaVu Sans, Liberation Sans, sans-serif" font-weight="200">7190 m</text>
<text transform="scale(1.0420,1)" x="63.95 72.19 80.44 88.69 98.00 101.91" y="378.5" font-size="14.5" fill="#000" stroke="#000" stroke-width="0.4" font-family="DejaVu Sans Light, DejaVu Sans, Liberation Sans, sans-serif" font-weight="200">6343 m</text>
<text transform="scale(1.0420,1)" x="63.95 72.19 80.44 88.69 98.00 101.91" y="402.5" font-size="14.5" fill="#000" stroke="#000" stroke-width="0.4" font-family="DejaVu Sans Light, DejaVu Sans, Liberation Sans, sans-serif" font-weight="200">5580 m</text>
<text transform="scale(1.0420,1)" x="63.95 72.19 80.44 88.69 98.00 101.91" y="424.5" font-size="14.5" fill="#000" stroke="#000" stroke-width="0.4" font-family="DejaVu Sans Light, DejaVu Sans, Liberation Sans, sans-serif" font-weight="200">4867 m</text>
<text transform="scale(1.0625,1)" x="62.68 70.93 79.18 87.42 96.74 100.64" y="444.5" font-size="14.5" fill="#000" stroke="#000" stroke-width="0.4" font-family="DejaVu Sans Light, DejaVu Sans, Liberation Sans, sans-serif" font-weight="200">4202 m</text>
<text transform="scale(1.0420,1)" x="63.95 72.19 80.44 88.69 98.00 101.91" y="463.5" font-size="14.5" fill="#000" stroke="#000" stroke-width="0.4" font-family="DejaVu Sans Light, DejaVu Sans, Liberation Sans, sans-serif" font-weight="200">3582 m</text>
<text transform="scale(1.0420,1)" x="63.95 72.19 80.44 88.69 98.00 101.91" y="480.5" font-size="14.5" fill="#000" stroke="#000" stroke-width="0.4" font-family="DejaVu Sans Light, DejaVu Sans, Liberation Sans, sans-serif" font-weight="200">3000 m</text>
<text transform="scale(1.0625,1)" x="62.68 70.93 79.18 87.42 96.74 100.64" y="496.5" font-size="14.5" fill="#000" stroke="#000" stroke-width="0.4" font-family="DejaVu Sans Light, DejaVu Sans, Liberation Sans, sans-serif" font-weight="200">2437 m</text>
<text transform="scale(0.9377,1)" x="69.89 76.81 83.74 89.35 97.35 101.25" y="511.5" font-size="14.5" fill="#000" stroke="#000" stroke-width="0.4" font-family="DejaVu Sans Light, DejaVu Sans, Liberation Sans, sans-serif" font-weight="200">1911 m</text>
<text transform="scale(0.9959,1)" x="65.65 72.58 79.50 86.43 95.75 99.65" y="525.5" font-size="14.5" fill="#000" stroke="#000" stroke-width="0.4" font-family="DejaVu Sans Light, DejaVu Sans, Liberation Sans, sans-serif" font-weight="200">1417 m</text>
<text transform="scale(1.0319,1)" x="64.58 72.83 81.08 90.39 94.30" y="538.5" font-size="14.5" fill="#000" stroke="#000" stroke-width="0.4" font-family="DejaVu Sans Light, DejaVu Sans, Liberation Sans, sans-serif" font-weight="200">936 m</text>
<text transform="scale(1.0319,1)" x="64.58 72.83 81.08 90.39 94.30" y="551.5" font-size="14.5" fill="#000" stroke="#000" stroke-width="0.4" font-family="DejaVu Sans Light, DejaVu Sans, Liberation Sans, sans-serif" font-weight="200">479 m</text>
<text transform="scale(1.0633,1)" x="62.64 70.88 80.20 84.10" y="563.5" font-size="14.5" fill="#000" stroke="#000" stroke-width="0.4" font-family="DejaVu Sans Light, DejaVu Sans, Liberation Sans, sans-serif" font-weight="200">45 m</text>
<text transform="scale(1.0172,1)" x="44.41 57.81 67.19" y="584" font-size="16.5" fill="#0808c0" stroke="#0808c0" stroke-width="0.4" font-family="DejaVu Sans Light, DejaVu Sans, Liberation Sans, sans-serif" font-weight="200">−50</text>
<text transform="scale(1.0495,1)" x="98.05 111.44 120.83" y="584" font-size="16.5" fill="#0808c0" stroke="#0808c0" stroke-width="0.4" font-family="DejaVu Sans Light, DejaVu Sans, Liberation Sans, sans-serif" font-weight="200">−40</text>
<text transform="scale(1.0495,1)" x="156.41 169.81 179.19" y="584" font-size="16.5" fill="#0808c0" stroke="#0808c0" stroke-width="0.4" font-family="DejaVu Sans Light, DejaVu Sans, Liberation Sans, sans-serif" font-weight="200">−30</text>
<text transform="scale(1.0850,1)" x="205.09 218.48 227.87" y="584" font-size="16.5" fill="#0808c0" stroke="#0808c0" stroke-width="0.4" font-family="DejaVu Sans Light, DejaVu Sans, Liberation Sans, sans-serif" font-weight="200">−20</text>
<text transform="scale(0.9977,1)" x="285.36 297.25 305.13" y="584" font-size="16.5" fill="#0808c0" stroke="#0808c0" stroke-width="0.4" font-family="DejaVu Sans Light, DejaVu Sans, Liberation Sans, sans-serif" font-weight="200">−10</text>
<text transform="scale(1.2521,1)" x="288.26" y="584" font-size="16.5" fill="#0808c0" stroke="#0808c0" stroke-width="0.4" font-family="DejaVu Sans Light, DejaVu Sans, Liberation Sans, sans-serif" font-weight="200">0</text>
<text transform="scale(1.0800,1)" x="383.11 391.00" y="584" font-size="16.5" fill="#0808c0" stroke="#0808c0" stroke-width="0.4" font-family="DejaVu Sans Light, DejaVu Sans, Liberation Sans, sans-serif" font-weight="200">10</text>
<text transform="scale(1.2432,1)" x="379.78 389.16" y="584" font-size="16.5" fill="#0808c0" stroke="#0808c0" stroke-width="0.4" font-family="DejaVu Sans Light, DejaVu Sans, Liberation Sans, sans-serif" font-weight="200">20</text>
<text transform="scale(1.1248,1)" x="474.14 483.53" y="584" font-size="16.5" fill="#0808c0" stroke="#0808c0" stroke-width="0.4" font-family="DejaVu Sans Light, DejaVu Sans, Liberation Sans, sans-serif" font-weight="200">30</text>
<text transform="scale(1.0656,1)" x="557.81 567.20" y="584" font-size="16.5" fill="#0808c0" stroke="#0808c0" stroke-width="0.4" font-family="DejaVu Sans Light, DejaVu Sans, Liberation Sans, sans-serif" font-weight="200">40</text>
<text transform="scale(1.2339,1)" x="529.15" y="584" font-size="16.5" fill="#0808c0" stroke="#0808c0" stroke-width="0.4" font-family="DejaVu Sans Light, DejaVu Sans, Liberation Sans, sans-serif" font-weight="200">C</text>
<text transform="scale(1.2313,1)" x="519.90 529.53 535.07 543.40" y="595" font-size="15.3" fill="#5c5c10" stroke="#5c5c10" stroke-width="0.4" font-family="DejaVu Sans Light, DejaVu Sans, Liberation Sans, sans-serif" font-weight="200">g/kg</text>
<text transform="scale(1.0882,1)" x="95.10 104.06 106.76" y="595" font-size="15.3" fill="#5c5c10" stroke="#5c5c10" stroke-width="0.4" font-family="DejaVu Sans Light, DejaVu Sans, Liberation Sans, sans-serif" font-weight="200">0.1</text>
<text transform="scale(1.1242,1)" x="126.48 135.44 139.54" y="595" font-size="15.3" fill="#5c5c10" stroke="#5c5c10" stroke-width="0.4" font-family="DejaVu Sans Light, DejaVu Sans, Liberation Sans, sans-serif" font-weight="200">0.2</text>
<text transform="scale(1.1542,1)" x="184.37 193.34 197.43" y="595" font-size="15.3" fill="#5c5c10" stroke="#5c5c10" stroke-width="0.4" font-family="DejaVu Sans Light, DejaVu Sans, Liberation Sans, sans-serif" font-weight="200">0.6</text>
<text transform="scale(0.9925,1)" x="252.54 260.11 264.20" y="595" font-size="15.3" fill="#5c5c10" stroke="#5c5c10" stroke-width="0.4" font-family="DejaVu Sans Light, DejaVu Sans, Liberation Sans, sans-serif" font-weight="200">1.0</text>
<text transform="scale(1.1991,1)" x="249.21 258.17 262.26" y="595" font-size="15.3" fill="#5c5c10" stroke="#5c5c10" stroke-width="0.4" font-family="DejaVu Sans Light, DejaVu Sans, Liberation Sans, sans-serif" font-weight="200">2.0</text>
<text transform="scale(1.1991,1)" x="275.98 284.94 289.03" y="595" font-size="15.3" fill="#5c5c10" stroke="#5c5c10" stroke-width="0.4" font-family="DejaVu Sans Light, DejaVu Sans, Liberation Sans, sans-serif" font-weight="200">3.0</text>
<text transform="scale(1.1991,1)" x="310.50 319.47 323.56" y="595" font-size="15.3" fill="#5c5c10" stroke="#5c5c10" stroke-width="0.4" font-family="DejaVu Sans Light, DejaVu Sans, Liberation Sans, sans-serif" font-weight="200">5.0</text>
<text transform="scale(1.1569,1)" x="372.36 379.67 388.64 392.73" y="595" font-size="15.3" fill="#5c5c10" stroke="#5c5c10" stroke-width="0.4" font-family="DejaVu Sans Light, DejaVu Sans, Liberation Sans, sans-serif" font-weight="200">10.0</text>
<text transform="scale(1.2014,1)" x="411.88 420.58 429.54 433.63" y="595" font-size="15.3" fill="#5c5c10" stroke="#5c5c10" stroke-width="0.4" font-family="DejaVu Sans Light, DejaVu Sans, Liberation Sans, sans-serif" font-weight="200">20.0</text>
<text transform="scale(1.1840,1)" x="478.77 487.47 496.43 500.52" y="595" font-size="15.3" fill="#5c5c10" stroke="#5c5c10" stroke-width="0.4" font-family="DejaVu Sans Light, DejaVu Sans, Liberation Sans, sans-serif" font-weight="200">40.0</text>
<text x="66" y="21.3" font-size="13.5" fill="#0000b4" font-family="Liberation Serif, serif" font-weight="bold" stroke="#0000b4" stroke-width="0.3" text-anchor="start" textLength="124" lengthAdjust="spacingAndGlyphs">XS341 (38341) Sounding</text>
<text x="563.5" y="21.3" font-size="13.5" fill="#0000b4" font-family="Liberation Serif, serif" font-weight="bold" stroke="#0000b4" stroke-width="0.3" text-anchor="start" textLength="89.5" lengthAdjust="spacingAndGlyphs">1200Z 29 DEC 25</text>
<text x="699.5" y="35.1" font-size="12.5" fill="#0000b4" stroke="#0000b4" stroke-width="0.25" textLength="64.5" lengthAdjust="spacingAndGlyphs" font-family="Liberation Serif, serif" font-weight="bold">WMO:38341</text>
<text x="699.5" y="49.9" font-size="12.5" fill="#0000b4" stroke="#0000b4" stroke-width="0.25" textLength="38.0" lengthAdjust="spacingAndGlyphs" font-family="Liberation Serif, serif" font-weight="bold">TP:221</text>
<text x="699.5" y="64.7" font-size="12.5" fill="#0000b4" stroke="#0000b4" stroke-width="0.25" textLength="45.5" lengthAdjust="spacingAndGlyphs" font-family="Liberation Serif, serif" font-weight="bold">FRZ:715</text>
<text x="699.5" y="79.5" font-size="12.5" fill="#0000b4" stroke="#0000b4" stroke-width="0.25" textLength="48.0" lengthAdjust="spacingAndGlyphs" font-family="Liberation Serif, serif" font-weight="bold">WB0:815</text>
<text x="699.5" y="94.3" font-size="12.5" fill="#0000b4" stroke="#0000b4" stroke-width="0.25" textLength="44.5" lengthAdjust="spacingAndGlyphs" font-family="Liberation Serif, serif" font-weight="bold">PW:0.26</text>
<text x="699.5" y="109.0" font-size="12.5" fill="#0000b4" stroke="#0000b4" stroke-width="0.25" textLength="44.5" lengthAdjust="spacingAndGlyphs" font-family="Liberation Serif, serif" font-weight="bold">RH:28.2</text>
<text x="699.5" y="123.8" font-size="12.5" fill="#0000b4" stroke="#0000b4" stroke-width="0.25" textLength="63.0" lengthAdjust="spacingAndGlyphs" font-family="Liberation Serif, serif" font-weight="bold">MAXT:20.5</text>
<text x="699.5" y="138.6" font-size="12.5" fill="#0000b4" stroke="#0000b4" stroke-width="0.25" textLength="46.5" lengthAdjust="spacingAndGlyphs" font-family="Liberation Serif, serif" font-weight="bold">TH:5535</text>
<text x="699.5" y="153.4" font-size="12.5" fill="#0000b4" stroke="#0000b4" stroke-width="0.25" textLength="39.0" lengthAdjust="spacingAndGlyphs" font-family="Liberation Serif, serif" font-weight="bold">L57:7.7</text>
<text x="699.5" y="168.2" font-size="12.5" fill="#0000b4" stroke="#0000b4" stroke-width="0.25" textLength="44.5" lengthAdjust="spacingAndGlyphs" font-family="Liberation Serif, serif" font-weight="bold">LCL:776</text>
<text x="699.5" y="183.0" font-size="12.5" fill="#0000b4" stroke="#0000b4" stroke-width="0.25" textLength="32.0" lengthAdjust="spacingAndGlyphs" font-family="Liberation Serif, serif" font-weight="bold">LI:5.1</text>
<text x="699.5" y="197.8" font-size="12.5" fill="#0000b4" stroke="#0000b4" stroke-width="0.25" textLength="30.5" lengthAdjust="spacingAndGlyphs" font-family="Liberation Serif, serif" font-weight="bold">SI:5.7</text>
<text x="699.5" y="212.6" font-size="12.5" fill="#0000b4" stroke="#0000b4" stroke-width="0.25" textLength="33.0" lengthAdjust="spacingAndGlyphs" font-family="Liberation Serif, serif" font-weight="bold">TT:40</text>
<text x="699.5" y="227.4" font-size="12.5" fill="#0000b4" stroke="#0000b4" stroke-width="0.25" textLength="24.5" lengthAdjust="spacingAndGlyphs" font-family="Liberation Serif, serif" font-weight="bold">KI:1</text>
<text x="699.5" y="242.2" font-size="12.5" fill="#0000b4" stroke="#0000b4" stroke-width="0.25" textLength="34.0" lengthAdjust="spacingAndGlyphs" font-family="Liberation Serif, serif" font-weight="bold">SW:53</text>
<text x="699.5" y="256.9" font-size="12.5" fill="#0000b4" stroke="#0000b4" stroke-width="0.25" textLength="32.0" lengthAdjust="spacingAndGlyphs" font-family="Liberation Serif, serif" font-weight="bold">EI:1.3</text>
<text x="699.5" y="271.7" font-size="12.5" fill="#0000b4" stroke="#0000b4" stroke-width="0.25" textLength="56.5" lengthAdjust="spacingAndGlyphs" font-family="Liberation Serif, serif" font-weight="bold">-PARCEL-</text>
<text x="699.5" y="286.5" font-size="12.5" fill="#0000b4" stroke="#0000b4" stroke-width="0.25" textLength="48.0" lengthAdjust="spacingAndGlyphs" font-family="Liberation Serif, serif" font-weight="bold">CAPE:17</text>
<text x="699.5" y="301.3" font-size="12.5" fill="#0000b4" stroke="#0000b4" stroke-width="0.25" textLength="64.5" lengthAdjust="spacingAndGlyphs" font-family="Liberation Serif, serif" font-weight="bold">CINH:51413</text>
<text x="699.5" y="316.1" font-size="12.5" fill="#0000b4" stroke="#0000b4" stroke-width="0.25" textLength="44.5" lengthAdjust="spacingAndGlyphs" font-family="Liberation Serif, serif" font-weight="bold">LCL:626</text>
<text x="699.5" y="330.9" font-size="12.5" fill="#0000b4" stroke="#0000b4" stroke-width="0.25" textLength="44.5" lengthAdjust="spacingAndGlyphs" font-family="Liberation Serif, serif" font-weight="bold">CAP:5.6</text>
<text x="699.5" y="345.7" font-size="12.5" fill="#0000b4" stroke="#0000b4" stroke-width="0.25" textLength="36.5" lengthAdjust="spacingAndGlyphs" font-family="Liberation Serif, serif" font-weight="bold">LFC:-1</text>
<text x="699.5" y="360.5" font-size="12.5" fill="#0000b4" stroke="#0000b4" stroke-width="0.25" textLength="42.0" lengthAdjust="spacingAndGlyphs" font-family="Liberation Serif, serif" font-weight="bold">-WIND-</text>
<text x="699.5" y="375.3" font-size="12.5" fill="#0000b4" stroke="#0000b4" stroke-width="0.25" textLength="64.0" lengthAdjust="spacingAndGlyphs" font-family="Liberation Serif, serif" font-weight="bold">STM:257/16</text>
<text x="699.5" y="390.1" font-size="12.5" fill="#0000b4" stroke="#0000b4" stroke-width="0.25" textLength="47.0" lengthAdjust="spacingAndGlyphs" font-family="Liberation Serif, serif" font-weight="bold">HEL:109</text>
<text x="699.5" y="404.9" font-size="12.5" fill="#0000b4" stroke="#0000b4" stroke-width="0.25" textLength="52.0" lengthAdjust="spacingAndGlyphs" font-family="Liberation Serif, serif" font-weight="bold">SHR+:0.0</text>
<text x="699.5" y="419.6" font-size="12.5" fill="#0000b4" stroke="#0000b4" stroke-width="0.25" textLength="47.0" lengthAdjust="spacingAndGlyphs" font-family="Liberation Serif, serif" font-weight="bold">SRDS:88</text>
<text x="699.5" y="434.4" font-size="12.5" fill="#0000b4" stroke="#0000b4" stroke-width="0.25" textLength="42.0" lengthAdjust="spacingAndGlyphs" font-family="Liberation Serif, serif" font-weight="bold">EHI:0.0</text>
<text x="699.5" y="449.2" font-size="12.5" fill="#0000b4" stroke="#0000b4" stroke-width="0.25" textLength="44.5" lengthAdjust="spacingAndGlyphs" font-family="Liberation Serif, serif" font-weight="bold">BRN:0.2</text>
<text x="699.5" y="464.0" font-size="12.5" fill="#0000b4" stroke="#0000b4" stroke-width="0.25" textLength="49.5" lengthAdjust="spacingAndGlyphs" font-family="Liberation Serif, serif" font-weight="bold">BSHR:88</text>
</svg>
</body></html>
